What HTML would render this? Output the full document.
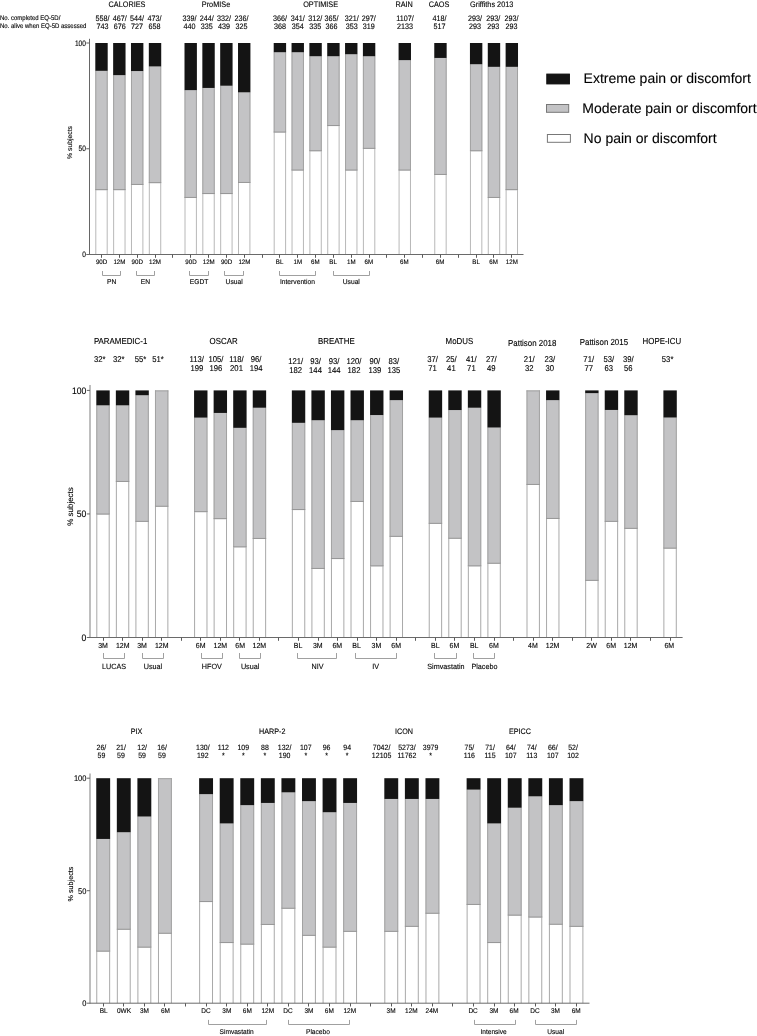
<!DOCTYPE html>
<html><head><meta charset="utf-8"><title>EQ-5D pain or discomfort</title>
<style>
html,body{margin:0;padding:0;background:#fff;}
body{width:757px;height:1036px;overflow:hidden;}
svg{display:block;}
text{fill:#000;font-family:'Liberation Sans', Arial, Helvetica, sans-serif;text-rendering:geometricPrecision;stroke:#000;stroke-width:0.2px;stroke-opacity:0.55;}
</style></head><body>
<svg width="757" height="1036" viewBox="0 0 757 1036">
<rect x="0" y="0" width="757" height="1036" fill="#fff"/>
<rect x="95.30" y="190.15" width="12.40" height="64.35" fill="#ffffff"/>
<line x1="95.80" y1="190.15" x2="95.80" y2="254.50" stroke="#b8b8b8" stroke-width="1"/>
<line x1="107.20" y1="190.15" x2="107.20" y2="254.50" stroke="#b8b8b8" stroke-width="1"/>
<rect x="95.30" y="70.85" width="12.40" height="119.30" fill="#c3c3c5"/>
<line x1="95.80" y1="70.85" x2="95.80" y2="190.15" stroke="#a2a2a2" stroke-width="1"/>
<line x1="107.20" y1="70.85" x2="107.20" y2="190.15" stroke="#a2a2a2" stroke-width="1"/>
<line x1="95.30" y1="189.65" x2="107.70" y2="189.65" stroke="#969696" stroke-width="1"/>
<rect x="95.30" y="43.00" width="12.40" height="27.85" fill="#141414"/>
<rect x="113.14" y="190.15" width="12.40" height="64.35" fill="#ffffff"/>
<line x1="113.64" y1="190.15" x2="113.64" y2="254.50" stroke="#b8b8b8" stroke-width="1"/>
<line x1="125.04" y1="190.15" x2="125.04" y2="254.50" stroke="#b8b8b8" stroke-width="1"/>
<rect x="113.14" y="75.15" width="12.40" height="115.00" fill="#c3c3c5"/>
<line x1="113.64" y1="75.15" x2="113.64" y2="190.15" stroke="#a2a2a2" stroke-width="1"/>
<line x1="125.04" y1="75.15" x2="125.04" y2="190.15" stroke="#a2a2a2" stroke-width="1"/>
<line x1="113.14" y1="189.65" x2="125.54" y2="189.65" stroke="#969696" stroke-width="1"/>
<rect x="113.14" y="43.00" width="12.40" height="32.15" fill="#141414"/>
<rect x="130.98" y="184.95" width="12.40" height="69.55" fill="#ffffff"/>
<line x1="131.48" y1="184.95" x2="131.48" y2="254.50" stroke="#b8b8b8" stroke-width="1"/>
<line x1="142.88" y1="184.95" x2="142.88" y2="254.50" stroke="#b8b8b8" stroke-width="1"/>
<rect x="130.98" y="71.05" width="12.40" height="113.90" fill="#c3c3c5"/>
<line x1="131.48" y1="71.05" x2="131.48" y2="184.95" stroke="#a2a2a2" stroke-width="1"/>
<line x1="142.88" y1="71.05" x2="142.88" y2="184.95" stroke="#a2a2a2" stroke-width="1"/>
<line x1="130.98" y1="184.45" x2="143.38" y2="184.45" stroke="#969696" stroke-width="1"/>
<rect x="130.98" y="43.00" width="12.40" height="28.05" fill="#141414"/>
<rect x="148.82" y="183.15" width="12.40" height="71.35" fill="#ffffff"/>
<line x1="149.32" y1="183.15" x2="149.32" y2="254.50" stroke="#b8b8b8" stroke-width="1"/>
<line x1="160.72" y1="183.15" x2="160.72" y2="254.50" stroke="#b8b8b8" stroke-width="1"/>
<rect x="148.82" y="66.45" width="12.40" height="116.70" fill="#c3c3c5"/>
<line x1="149.32" y1="66.45" x2="149.32" y2="183.15" stroke="#a2a2a2" stroke-width="1"/>
<line x1="160.72" y1="66.45" x2="160.72" y2="183.15" stroke="#a2a2a2" stroke-width="1"/>
<line x1="148.82" y1="182.65" x2="161.22" y2="182.65" stroke="#969696" stroke-width="1"/>
<rect x="148.82" y="43.00" width="12.40" height="23.45" fill="#141414"/>
<rect x="184.50" y="197.95" width="12.40" height="56.55" fill="#ffffff"/>
<line x1="185.00" y1="197.95" x2="185.00" y2="254.50" stroke="#b8b8b8" stroke-width="1"/>
<line x1="196.40" y1="197.95" x2="196.40" y2="254.50" stroke="#b8b8b8" stroke-width="1"/>
<rect x="184.50" y="90.15" width="12.40" height="107.80" fill="#c3c3c5"/>
<line x1="185.00" y1="90.15" x2="185.00" y2="197.95" stroke="#a2a2a2" stroke-width="1"/>
<line x1="196.40" y1="90.15" x2="196.40" y2="197.95" stroke="#a2a2a2" stroke-width="1"/>
<line x1="184.50" y1="197.45" x2="196.90" y2="197.45" stroke="#969696" stroke-width="1"/>
<rect x="184.50" y="43.00" width="12.40" height="47.15" fill="#141414"/>
<rect x="202.34" y="194.05" width="12.40" height="60.45" fill="#ffffff"/>
<line x1="202.84" y1="194.05" x2="202.84" y2="254.50" stroke="#b8b8b8" stroke-width="1"/>
<line x1="214.24" y1="194.05" x2="214.24" y2="254.50" stroke="#b8b8b8" stroke-width="1"/>
<rect x="202.34" y="87.95" width="12.40" height="106.10" fill="#c3c3c5"/>
<line x1="202.84" y1="87.95" x2="202.84" y2="194.05" stroke="#a2a2a2" stroke-width="1"/>
<line x1="214.24" y1="87.95" x2="214.24" y2="194.05" stroke="#a2a2a2" stroke-width="1"/>
<line x1="202.34" y1="193.55" x2="214.74" y2="193.55" stroke="#969696" stroke-width="1"/>
<rect x="202.34" y="43.00" width="12.40" height="44.95" fill="#141414"/>
<rect x="220.18" y="194.05" width="12.40" height="60.45" fill="#ffffff"/>
<line x1="220.68" y1="194.05" x2="220.68" y2="254.50" stroke="#b8b8b8" stroke-width="1"/>
<line x1="232.08" y1="194.05" x2="232.08" y2="254.50" stroke="#b8b8b8" stroke-width="1"/>
<rect x="220.18" y="85.75" width="12.40" height="108.30" fill="#c3c3c5"/>
<line x1="220.68" y1="85.75" x2="220.68" y2="194.05" stroke="#a2a2a2" stroke-width="1"/>
<line x1="232.08" y1="85.75" x2="232.08" y2="194.05" stroke="#a2a2a2" stroke-width="1"/>
<line x1="220.18" y1="193.55" x2="232.58" y2="193.55" stroke="#969696" stroke-width="1"/>
<rect x="220.18" y="43.00" width="12.40" height="42.75" fill="#141414"/>
<rect x="238.02" y="182.95" width="12.40" height="71.55" fill="#ffffff"/>
<line x1="238.52" y1="182.95" x2="238.52" y2="254.50" stroke="#b8b8b8" stroke-width="1"/>
<line x1="249.92" y1="182.95" x2="249.92" y2="254.50" stroke="#b8b8b8" stroke-width="1"/>
<rect x="238.02" y="92.35" width="12.40" height="90.60" fill="#c3c3c5"/>
<line x1="238.52" y1="92.35" x2="238.52" y2="182.95" stroke="#a2a2a2" stroke-width="1"/>
<line x1="249.92" y1="92.35" x2="249.92" y2="182.95" stroke="#a2a2a2" stroke-width="1"/>
<line x1="238.02" y1="182.45" x2="250.42" y2="182.45" stroke="#969696" stroke-width="1"/>
<rect x="238.02" y="43.00" width="12.40" height="49.35" fill="#141414"/>
<rect x="273.70" y="132.55" width="12.40" height="121.95" fill="#ffffff"/>
<line x1="274.20" y1="132.55" x2="274.20" y2="254.50" stroke="#b8b8b8" stroke-width="1"/>
<line x1="285.60" y1="132.55" x2="285.60" y2="254.50" stroke="#b8b8b8" stroke-width="1"/>
<rect x="273.70" y="52.25" width="12.40" height="80.30" fill="#c3c3c5"/>
<line x1="274.20" y1="52.25" x2="274.20" y2="132.55" stroke="#a2a2a2" stroke-width="1"/>
<line x1="285.60" y1="52.25" x2="285.60" y2="132.55" stroke="#a2a2a2" stroke-width="1"/>
<line x1="273.70" y1="132.05" x2="286.10" y2="132.05" stroke="#969696" stroke-width="1"/>
<rect x="273.70" y="43.00" width="12.40" height="9.25" fill="#141414"/>
<rect x="291.54" y="170.55" width="12.40" height="83.95" fill="#ffffff"/>
<line x1="292.04" y1="170.55" x2="292.04" y2="254.50" stroke="#b8b8b8" stroke-width="1"/>
<line x1="303.44" y1="170.55" x2="303.44" y2="254.50" stroke="#b8b8b8" stroke-width="1"/>
<rect x="291.54" y="52.25" width="12.40" height="118.30" fill="#c3c3c5"/>
<line x1="292.04" y1="52.25" x2="292.04" y2="170.55" stroke="#a2a2a2" stroke-width="1"/>
<line x1="303.44" y1="52.25" x2="303.44" y2="170.55" stroke="#a2a2a2" stroke-width="1"/>
<line x1="291.54" y1="170.05" x2="303.94" y2="170.05" stroke="#969696" stroke-width="1"/>
<rect x="291.54" y="43.00" width="12.40" height="9.25" fill="#141414"/>
<rect x="309.38" y="151.25" width="12.40" height="103.25" fill="#ffffff"/>
<line x1="309.88" y1="151.25" x2="309.88" y2="254.50" stroke="#b8b8b8" stroke-width="1"/>
<line x1="321.28" y1="151.25" x2="321.28" y2="254.50" stroke="#b8b8b8" stroke-width="1"/>
<rect x="309.38" y="56.25" width="12.40" height="95.00" fill="#c3c3c5"/>
<line x1="309.88" y1="56.25" x2="309.88" y2="151.25" stroke="#a2a2a2" stroke-width="1"/>
<line x1="321.28" y1="56.25" x2="321.28" y2="151.25" stroke="#a2a2a2" stroke-width="1"/>
<line x1="309.38" y1="150.75" x2="321.78" y2="150.75" stroke="#969696" stroke-width="1"/>
<rect x="309.38" y="43.00" width="12.40" height="13.25" fill="#141414"/>
<rect x="327.22" y="126.05" width="12.40" height="128.45" fill="#ffffff"/>
<line x1="327.72" y1="126.05" x2="327.72" y2="254.50" stroke="#b8b8b8" stroke-width="1"/>
<line x1="339.12" y1="126.05" x2="339.12" y2="254.50" stroke="#b8b8b8" stroke-width="1"/>
<rect x="327.22" y="56.25" width="12.40" height="69.80" fill="#c3c3c5"/>
<line x1="327.72" y1="56.25" x2="327.72" y2="126.05" stroke="#a2a2a2" stroke-width="1"/>
<line x1="339.12" y1="56.25" x2="339.12" y2="126.05" stroke="#a2a2a2" stroke-width="1"/>
<line x1="327.22" y1="125.55" x2="339.62" y2="125.55" stroke="#969696" stroke-width="1"/>
<rect x="327.22" y="43.00" width="12.40" height="13.25" fill="#141414"/>
<rect x="345.06" y="170.55" width="12.40" height="83.95" fill="#ffffff"/>
<line x1="345.56" y1="170.55" x2="345.56" y2="254.50" stroke="#b8b8b8" stroke-width="1"/>
<line x1="356.96" y1="170.55" x2="356.96" y2="254.50" stroke="#b8b8b8" stroke-width="1"/>
<rect x="345.06" y="54.25" width="12.40" height="116.30" fill="#c3c3c5"/>
<line x1="345.56" y1="54.25" x2="345.56" y2="170.55" stroke="#a2a2a2" stroke-width="1"/>
<line x1="356.96" y1="54.25" x2="356.96" y2="170.55" stroke="#a2a2a2" stroke-width="1"/>
<line x1="345.06" y1="170.05" x2="357.46" y2="170.05" stroke="#969696" stroke-width="1"/>
<rect x="345.06" y="43.00" width="12.40" height="11.25" fill="#141414"/>
<rect x="362.90" y="148.85" width="12.40" height="105.65" fill="#ffffff"/>
<line x1="363.40" y1="148.85" x2="363.40" y2="254.50" stroke="#b8b8b8" stroke-width="1"/>
<line x1="374.80" y1="148.85" x2="374.80" y2="254.50" stroke="#b8b8b8" stroke-width="1"/>
<rect x="362.90" y="56.25" width="12.40" height="92.60" fill="#c3c3c5"/>
<line x1="363.40" y1="56.25" x2="363.40" y2="148.85" stroke="#a2a2a2" stroke-width="1"/>
<line x1="374.80" y1="56.25" x2="374.80" y2="148.85" stroke="#a2a2a2" stroke-width="1"/>
<line x1="362.90" y1="148.35" x2="375.30" y2="148.35" stroke="#969696" stroke-width="1"/>
<rect x="362.90" y="43.00" width="12.40" height="13.25" fill="#141414"/>
<rect x="398.58" y="170.55" width="12.40" height="83.95" fill="#ffffff"/>
<line x1="399.08" y1="170.55" x2="399.08" y2="254.50" stroke="#b8b8b8" stroke-width="1"/>
<line x1="410.48" y1="170.55" x2="410.48" y2="254.50" stroke="#b8b8b8" stroke-width="1"/>
<rect x="398.58" y="60.15" width="12.40" height="110.40" fill="#c3c3c5"/>
<line x1="399.08" y1="60.15" x2="399.08" y2="170.55" stroke="#a2a2a2" stroke-width="1"/>
<line x1="410.48" y1="60.15" x2="410.48" y2="170.55" stroke="#a2a2a2" stroke-width="1"/>
<line x1="398.58" y1="170.05" x2="410.98" y2="170.05" stroke="#969696" stroke-width="1"/>
<rect x="398.58" y="43.00" width="12.40" height="17.15" fill="#141414"/>
<rect x="434.26" y="174.95" width="12.40" height="79.55" fill="#ffffff"/>
<line x1="434.76" y1="174.95" x2="434.76" y2="254.50" stroke="#b8b8b8" stroke-width="1"/>
<line x1="446.16" y1="174.95" x2="446.16" y2="254.50" stroke="#b8b8b8" stroke-width="1"/>
<rect x="434.26" y="57.95" width="12.40" height="117.00" fill="#c3c3c5"/>
<line x1="434.76" y1="57.95" x2="434.76" y2="174.95" stroke="#a2a2a2" stroke-width="1"/>
<line x1="446.16" y1="57.95" x2="446.16" y2="174.95" stroke="#a2a2a2" stroke-width="1"/>
<line x1="434.26" y1="174.45" x2="446.66" y2="174.45" stroke="#969696" stroke-width="1"/>
<rect x="434.26" y="43.00" width="12.40" height="14.95" fill="#141414"/>
<rect x="469.94" y="151.25" width="12.40" height="103.25" fill="#ffffff"/>
<line x1="470.44" y1="151.25" x2="470.44" y2="254.50" stroke="#b8b8b8" stroke-width="1"/>
<line x1="481.84" y1="151.25" x2="481.84" y2="254.50" stroke="#b8b8b8" stroke-width="1"/>
<rect x="469.94" y="64.25" width="12.40" height="87.00" fill="#c3c3c5"/>
<line x1="470.44" y1="64.25" x2="470.44" y2="151.25" stroke="#a2a2a2" stroke-width="1"/>
<line x1="481.84" y1="64.25" x2="481.84" y2="151.25" stroke="#a2a2a2" stroke-width="1"/>
<line x1="469.94" y1="150.75" x2="482.34" y2="150.75" stroke="#969696" stroke-width="1"/>
<rect x="469.94" y="43.00" width="12.40" height="21.25" fill="#141414"/>
<rect x="487.78" y="197.95" width="12.40" height="56.55" fill="#ffffff"/>
<line x1="488.28" y1="197.95" x2="488.28" y2="254.50" stroke="#b8b8b8" stroke-width="1"/>
<line x1="499.68" y1="197.95" x2="499.68" y2="254.50" stroke="#b8b8b8" stroke-width="1"/>
<rect x="487.78" y="66.85" width="12.40" height="131.10" fill="#c3c3c5"/>
<line x1="488.28" y1="66.85" x2="488.28" y2="197.95" stroke="#a2a2a2" stroke-width="1"/>
<line x1="499.68" y1="66.85" x2="499.68" y2="197.95" stroke="#a2a2a2" stroke-width="1"/>
<line x1="487.78" y1="197.45" x2="500.18" y2="197.45" stroke="#969696" stroke-width="1"/>
<rect x="487.78" y="43.00" width="12.40" height="23.85" fill="#141414"/>
<rect x="505.62" y="190.15" width="12.40" height="64.35" fill="#ffffff"/>
<line x1="506.12" y1="190.15" x2="506.12" y2="254.50" stroke="#b8b8b8" stroke-width="1"/>
<line x1="517.52" y1="190.15" x2="517.52" y2="254.50" stroke="#b8b8b8" stroke-width="1"/>
<rect x="505.62" y="66.85" width="12.40" height="123.30" fill="#c3c3c5"/>
<line x1="506.12" y1="66.85" x2="506.12" y2="190.15" stroke="#a2a2a2" stroke-width="1"/>
<line x1="517.52" y1="66.85" x2="517.52" y2="190.15" stroke="#a2a2a2" stroke-width="1"/>
<line x1="505.62" y1="189.65" x2="518.02" y2="189.65" stroke="#969696" stroke-width="1"/>
<rect x="505.62" y="43.00" width="12.40" height="23.85" fill="#141414"/>
<line x1="89.50" y1="38.80" x2="89.50" y2="255.00" stroke="#666" stroke-width="1"/>
<line x1="86.30" y1="254.50" x2="89.50" y2="254.50" stroke="#666" stroke-width="1"/>
<text transform="translate(85.90,257.24) scale(1.0,1.2)" font-size="6.6" text-anchor="end">0</text>
<line x1="86.30" y1="148.75" x2="89.50" y2="148.75" stroke="#666" stroke-width="1"/>
<text transform="translate(85.90,151.49) scale(1.0,1.2)" font-size="6.6" text-anchor="end">50</text>
<line x1="86.30" y1="43.00" x2="89.50" y2="43.00" stroke="#666" stroke-width="1"/>
<text transform="translate(85.90,45.74) scale(1.0,1.2)" font-size="6.6" text-anchor="end">100</text>
<line x1="89.50" y1="254.50" x2="523.50" y2="254.50" stroke="#6a6a6a" stroke-width="1"/>
<line x1="101.50" y1="254.50" x2="101.50" y2="257.80" stroke="#5a5a5a" stroke-width="1"/>
<line x1="119.50" y1="254.50" x2="119.50" y2="257.80" stroke="#5a5a5a" stroke-width="1"/>
<line x1="137.50" y1="254.50" x2="137.50" y2="257.80" stroke="#5a5a5a" stroke-width="1"/>
<line x1="155.50" y1="254.50" x2="155.50" y2="257.80" stroke="#5a5a5a" stroke-width="1"/>
<line x1="172.50" y1="254.50" x2="172.50" y2="257.80" stroke="#5a5a5a" stroke-width="1"/>
<line x1="190.50" y1="254.50" x2="190.50" y2="257.80" stroke="#5a5a5a" stroke-width="1"/>
<line x1="208.50" y1="254.50" x2="208.50" y2="257.80" stroke="#5a5a5a" stroke-width="1"/>
<line x1="226.50" y1="254.50" x2="226.50" y2="257.80" stroke="#5a5a5a" stroke-width="1"/>
<line x1="244.50" y1="254.50" x2="244.50" y2="257.80" stroke="#5a5a5a" stroke-width="1"/>
<line x1="262.50" y1="254.50" x2="262.50" y2="257.80" stroke="#5a5a5a" stroke-width="1"/>
<line x1="279.50" y1="254.50" x2="279.50" y2="257.80" stroke="#5a5a5a" stroke-width="1"/>
<line x1="297.50" y1="254.50" x2="297.50" y2="257.80" stroke="#5a5a5a" stroke-width="1"/>
<line x1="315.50" y1="254.50" x2="315.50" y2="257.80" stroke="#5a5a5a" stroke-width="1"/>
<line x1="333.50" y1="254.50" x2="333.50" y2="257.80" stroke="#5a5a5a" stroke-width="1"/>
<line x1="351.50" y1="254.50" x2="351.50" y2="257.80" stroke="#5a5a5a" stroke-width="1"/>
<line x1="369.50" y1="254.50" x2="369.50" y2="257.80" stroke="#5a5a5a" stroke-width="1"/>
<line x1="386.50" y1="254.50" x2="386.50" y2="257.80" stroke="#5a5a5a" stroke-width="1"/>
<line x1="404.50" y1="254.50" x2="404.50" y2="257.80" stroke="#5a5a5a" stroke-width="1"/>
<line x1="422.50" y1="254.50" x2="422.50" y2="257.80" stroke="#5a5a5a" stroke-width="1"/>
<line x1="440.50" y1="254.50" x2="440.50" y2="257.80" stroke="#5a5a5a" stroke-width="1"/>
<line x1="458.50" y1="254.50" x2="458.50" y2="257.80" stroke="#5a5a5a" stroke-width="1"/>
<line x1="476.50" y1="254.50" x2="476.50" y2="257.80" stroke="#5a5a5a" stroke-width="1"/>
<line x1="493.50" y1="254.50" x2="493.50" y2="257.80" stroke="#5a5a5a" stroke-width="1"/>
<line x1="511.50" y1="254.50" x2="511.50" y2="257.80" stroke="#5a5a5a" stroke-width="1"/>
<text x="0" y="0" font-size="6.8" text-anchor="middle" transform="translate(71.80,142.50) rotate(-90)">% subjects</text>
<text transform="translate(101.60,263.60) scale(1.0,1.05)" font-size="6.2" text-anchor="middle">90D</text>
<text transform="translate(119.40,263.60) scale(1.0,1.05)" font-size="6.2" text-anchor="middle">12M</text>
<text transform="translate(137.20,263.60) scale(1.0,1.05)" font-size="6.2" text-anchor="middle">90D</text>
<text transform="translate(155.00,263.60) scale(1.0,1.05)" font-size="6.2" text-anchor="middle">12M</text>
<text transform="translate(191.00,263.60) scale(1.0,1.05)" font-size="6.2" text-anchor="middle">90D</text>
<text transform="translate(208.70,263.60) scale(1.0,1.05)" font-size="6.2" text-anchor="middle">12M</text>
<text transform="translate(226.60,263.60) scale(1.0,1.05)" font-size="6.2" text-anchor="middle">90D</text>
<text transform="translate(244.40,263.60) scale(1.0,1.05)" font-size="6.2" text-anchor="middle">12M</text>
<text transform="translate(279.60,263.60) scale(1.0,1.05)" font-size="6.2" text-anchor="middle">BL</text>
<text transform="translate(297.80,263.60) scale(1.0,1.05)" font-size="6.2" text-anchor="middle">1M</text>
<text transform="translate(315.30,263.60) scale(1.0,1.05)" font-size="6.2" text-anchor="middle">6M</text>
<text transform="translate(333.10,263.60) scale(1.0,1.05)" font-size="6.2" text-anchor="middle">BL</text>
<text transform="translate(351.30,263.60) scale(1.0,1.05)" font-size="6.2" text-anchor="middle">1M</text>
<text transform="translate(368.80,263.60) scale(1.0,1.05)" font-size="6.2" text-anchor="middle">6M</text>
<text transform="translate(404.40,263.60) scale(1.0,1.05)" font-size="6.2" text-anchor="middle">6M</text>
<text transform="translate(440.10,263.60) scale(1.0,1.05)" font-size="6.2" text-anchor="middle">6M</text>
<text transform="translate(476.10,263.60) scale(1.0,1.05)" font-size="6.2" text-anchor="middle">BL</text>
<text transform="translate(493.60,263.60) scale(1.0,1.05)" font-size="6.2" text-anchor="middle">6M</text>
<text transform="translate(511.80,263.60) scale(1.0,1.05)" font-size="6.2" text-anchor="middle">12M</text>
<polyline points="102.50,271.00 102.50,275.50 120.50,275.50 120.50,271.00" fill="none" stroke="#a0a0a0" stroke-width="1"/>
<text transform="translate(111.70,284.20) scale(1.0,1.05)" font-size="6.7" text-anchor="middle">PN</text>
<polyline points="136.50,271.00 136.50,275.50 154.50,275.50 154.50,271.00" fill="none" stroke="#a0a0a0" stroke-width="1"/>
<text transform="translate(145.50,284.20) scale(1.0,1.05)" font-size="6.7" text-anchor="middle">EN</text>
<polyline points="189.50,271.00 189.50,275.50 208.50,275.50 208.50,271.00" fill="none" stroke="#a0a0a0" stroke-width="1"/>
<text transform="translate(199.00,284.20) scale(1.0,1.05)" font-size="6.7" text-anchor="middle">EGDT</text>
<polyline points="224.50,271.00 224.50,275.50 243.50,275.50 243.50,271.00" fill="none" stroke="#a0a0a0" stroke-width="1"/>
<text transform="translate(234.10,284.20) scale(1.0,1.05)" font-size="6.7" text-anchor="middle">Usual</text>
<polyline points="279.50,271.00 279.50,275.50 315.50,275.50 315.50,271.00" fill="none" stroke="#a0a0a0" stroke-width="1"/>
<text transform="translate(297.40,284.20) scale(1.0,1.05)" font-size="6.7" text-anchor="middle">Intervention</text>
<polyline points="333.50,271.00 333.50,275.50 369.50,275.50 369.50,271.00" fill="none" stroke="#a0a0a0" stroke-width="1"/>
<text transform="translate(351.30,284.20) scale(1.0,1.05)" font-size="6.7" text-anchor="middle">Usual</text>
<text transform="translate(127.00,6.50) scale(1.0,1.1)" font-size="7.3" text-anchor="middle">CALORIES</text>
<text transform="translate(216.00,6.50) scale(1.0,1.1)" font-size="7.3" text-anchor="middle">ProMISe</text>
<text transform="translate(320.60,6.50) scale(1.0,1.1)" font-size="7.3" text-anchor="middle">OPTIMISE</text>
<text transform="translate(404.10,6.50) scale(1.0,1.1)" font-size="7.3" text-anchor="middle">RAIN</text>
<text transform="translate(439.00,6.50) scale(1.0,1.1)" font-size="7.3" text-anchor="middle">CAOS</text>
<text transform="translate(491.70,6.50) scale(1.0,1.1)" font-size="7.3" text-anchor="middle">Griffiths 2013</text>
<text transform="translate(102.60,20.50) scale(1.0,1.1)" font-size="7.2" text-anchor="middle">558/</text>
<text transform="translate(102.60,29.10) scale(1.0,1.1)" font-size="7.2" text-anchor="middle">743</text>
<text transform="translate(119.80,20.50) scale(1.0,1.1)" font-size="7.2" text-anchor="middle">467/</text>
<text transform="translate(119.80,29.10) scale(1.0,1.1)" font-size="7.2" text-anchor="middle">676</text>
<text transform="translate(137.00,20.50) scale(1.0,1.1)" font-size="7.2" text-anchor="middle">544/</text>
<text transform="translate(137.00,29.10) scale(1.0,1.1)" font-size="7.2" text-anchor="middle">727</text>
<text transform="translate(154.50,20.50) scale(1.0,1.1)" font-size="7.2" text-anchor="middle">473/</text>
<text transform="translate(154.50,29.10) scale(1.0,1.1)" font-size="7.2" text-anchor="middle">658</text>
<text transform="translate(189.50,20.50) scale(1.0,1.1)" font-size="7.2" text-anchor="middle">339/</text>
<text transform="translate(189.50,29.10) scale(1.0,1.1)" font-size="7.2" text-anchor="middle">440</text>
<text transform="translate(206.70,20.50) scale(1.0,1.1)" font-size="7.2" text-anchor="middle">244/</text>
<text transform="translate(206.70,29.10) scale(1.0,1.1)" font-size="7.2" text-anchor="middle">335</text>
<text transform="translate(224.00,20.50) scale(1.0,1.1)" font-size="7.2" text-anchor="middle">332/</text>
<text transform="translate(224.00,29.10) scale(1.0,1.1)" font-size="7.2" text-anchor="middle">439</text>
<text transform="translate(241.60,20.50) scale(1.0,1.1)" font-size="7.2" text-anchor="middle">236/</text>
<text transform="translate(241.60,29.10) scale(1.0,1.1)" font-size="7.2" text-anchor="middle">325</text>
<text transform="translate(280.00,20.50) scale(1.0,1.1)" font-size="7.2" text-anchor="middle">366/</text>
<text transform="translate(280.00,29.10) scale(1.0,1.1)" font-size="7.2" text-anchor="middle">368</text>
<text transform="translate(297.80,20.50) scale(1.0,1.1)" font-size="7.2" text-anchor="middle">341/</text>
<text transform="translate(297.80,29.10) scale(1.0,1.1)" font-size="7.2" text-anchor="middle">354</text>
<text transform="translate(315.20,20.50) scale(1.0,1.1)" font-size="7.2" text-anchor="middle">312/</text>
<text transform="translate(315.20,29.10) scale(1.0,1.1)" font-size="7.2" text-anchor="middle">335</text>
<text transform="translate(331.60,20.50) scale(1.0,1.1)" font-size="7.2" text-anchor="middle">365/</text>
<text transform="translate(331.60,29.10) scale(1.0,1.1)" font-size="7.2" text-anchor="middle">366</text>
<text transform="translate(351.80,20.50) scale(1.0,1.1)" font-size="7.2" text-anchor="middle">321/</text>
<text transform="translate(351.80,29.10) scale(1.0,1.1)" font-size="7.2" text-anchor="middle">353</text>
<text transform="translate(368.70,20.50) scale(1.0,1.1)" font-size="7.2" text-anchor="middle">297/</text>
<text transform="translate(368.70,29.10) scale(1.0,1.1)" font-size="7.2" text-anchor="middle">319</text>
<text transform="translate(404.90,20.50) scale(1.0,1.1)" font-size="7.2" text-anchor="middle">1107/</text>
<text transform="translate(404.90,29.10) scale(1.0,1.1)" font-size="7.2" text-anchor="middle">2133</text>
<text transform="translate(439.60,20.50) scale(1.0,1.1)" font-size="7.2" text-anchor="middle">418/</text>
<text transform="translate(439.60,29.10) scale(1.0,1.1)" font-size="7.2" text-anchor="middle">517</text>
<text transform="translate(475.00,20.50) scale(1.0,1.1)" font-size="7.2" text-anchor="middle">293/</text>
<text transform="translate(475.00,29.10) scale(1.0,1.1)" font-size="7.2" text-anchor="middle">293</text>
<text transform="translate(493.20,20.50) scale(1.0,1.1)" font-size="7.2" text-anchor="middle">293/</text>
<text transform="translate(493.20,29.10) scale(1.0,1.1)" font-size="7.2" text-anchor="middle">293</text>
<text transform="translate(511.50,20.50) scale(1.0,1.1)" font-size="7.2" text-anchor="middle">293/</text>
<text transform="translate(511.50,29.10) scale(1.0,1.1)" font-size="7.2" text-anchor="middle">293</text>
<rect x="96.30" y="514.55" width="13.40" height="122.95" fill="#ffffff"/>
<line x1="96.80" y1="514.55" x2="96.80" y2="637.50" stroke="#a9a9a9" stroke-width="1"/>
<line x1="109.20" y1="514.55" x2="109.20" y2="637.50" stroke="#a9a9a9" stroke-width="1"/>
<rect x="96.30" y="405.35" width="13.40" height="109.20" fill="#c3c3c5"/>
<line x1="96.80" y1="405.35" x2="96.80" y2="514.55" stroke="#a2a2a2" stroke-width="1"/>
<line x1="109.20" y1="405.35" x2="109.20" y2="514.55" stroke="#a2a2a2" stroke-width="1"/>
<line x1="96.30" y1="514.05" x2="109.70" y2="514.05" stroke="#969696" stroke-width="1"/>
<rect x="96.30" y="390.40" width="13.40" height="14.95" fill="#141414"/>
<rect x="115.86" y="481.95" width="13.40" height="155.55" fill="#ffffff"/>
<line x1="116.36" y1="481.95" x2="116.36" y2="637.50" stroke="#a9a9a9" stroke-width="1"/>
<line x1="128.75" y1="481.95" x2="128.75" y2="637.50" stroke="#a9a9a9" stroke-width="1"/>
<rect x="115.86" y="405.35" width="13.40" height="76.60" fill="#c3c3c5"/>
<line x1="116.36" y1="405.35" x2="116.36" y2="481.95" stroke="#a2a2a2" stroke-width="1"/>
<line x1="128.75" y1="405.35" x2="128.75" y2="481.95" stroke="#a2a2a2" stroke-width="1"/>
<line x1="115.86" y1="481.45" x2="129.25" y2="481.45" stroke="#969696" stroke-width="1"/>
<rect x="115.86" y="390.40" width="13.40" height="14.95" fill="#141414"/>
<rect x="135.41" y="521.85" width="13.40" height="115.65" fill="#ffffff"/>
<line x1="135.91" y1="521.85" x2="135.91" y2="637.50" stroke="#a9a9a9" stroke-width="1"/>
<line x1="148.31" y1="521.85" x2="148.31" y2="637.50" stroke="#a9a9a9" stroke-width="1"/>
<rect x="135.41" y="395.25" width="13.40" height="126.60" fill="#c3c3c5"/>
<line x1="135.91" y1="395.25" x2="135.91" y2="521.85" stroke="#a2a2a2" stroke-width="1"/>
<line x1="148.31" y1="395.25" x2="148.31" y2="521.85" stroke="#a2a2a2" stroke-width="1"/>
<line x1="135.41" y1="521.35" x2="148.81" y2="521.35" stroke="#969696" stroke-width="1"/>
<rect x="135.41" y="390.40" width="13.40" height="4.85" fill="#141414"/>
<rect x="154.97" y="506.75" width="13.40" height="130.75" fill="#ffffff"/>
<line x1="155.47" y1="506.75" x2="155.47" y2="637.50" stroke="#a9a9a9" stroke-width="1"/>
<line x1="167.87" y1="506.75" x2="167.87" y2="637.50" stroke="#a9a9a9" stroke-width="1"/>
<rect x="154.97" y="390.40" width="13.40" height="116.35" fill="#c3c3c5"/>
<line x1="155.47" y1="390.40" x2="155.47" y2="506.75" stroke="#a2a2a2" stroke-width="1"/>
<line x1="167.87" y1="390.40" x2="167.87" y2="506.75" stroke="#a2a2a2" stroke-width="1"/>
<line x1="154.97" y1="506.25" x2="168.37" y2="506.25" stroke="#969696" stroke-width="1"/>
<line x1="154.97" y1="390.90" x2="168.37" y2="390.90" stroke="#a2a2a2" stroke-width="1"/>
<rect x="194.08" y="512.15" width="13.40" height="125.35" fill="#ffffff"/>
<line x1="194.58" y1="512.15" x2="194.58" y2="637.50" stroke="#a9a9a9" stroke-width="1"/>
<line x1="206.98" y1="512.15" x2="206.98" y2="637.50" stroke="#a9a9a9" stroke-width="1"/>
<rect x="194.08" y="417.65" width="13.40" height="94.50" fill="#c3c3c5"/>
<line x1="194.58" y1="417.65" x2="194.58" y2="512.15" stroke="#a2a2a2" stroke-width="1"/>
<line x1="206.98" y1="417.65" x2="206.98" y2="512.15" stroke="#a2a2a2" stroke-width="1"/>
<line x1="194.08" y1="511.65" x2="207.48" y2="511.65" stroke="#969696" stroke-width="1"/>
<rect x="194.08" y="390.40" width="13.40" height="27.25" fill="#141414"/>
<rect x="213.63" y="519.15" width="13.40" height="118.35" fill="#ffffff"/>
<line x1="214.13" y1="519.15" x2="214.13" y2="637.50" stroke="#a9a9a9" stroke-width="1"/>
<line x1="226.53" y1="519.15" x2="226.53" y2="637.50" stroke="#a9a9a9" stroke-width="1"/>
<rect x="213.63" y="412.95" width="13.40" height="106.20" fill="#c3c3c5"/>
<line x1="214.13" y1="412.95" x2="214.13" y2="519.15" stroke="#a2a2a2" stroke-width="1"/>
<line x1="226.53" y1="412.95" x2="226.53" y2="519.15" stroke="#a2a2a2" stroke-width="1"/>
<line x1="213.63" y1="518.65" x2="227.03" y2="518.65" stroke="#969696" stroke-width="1"/>
<rect x="213.63" y="390.40" width="13.40" height="22.55" fill="#141414"/>
<rect x="233.19" y="547.35" width="13.40" height="90.15" fill="#ffffff"/>
<line x1="233.69" y1="547.35" x2="233.69" y2="637.50" stroke="#a9a9a9" stroke-width="1"/>
<line x1="246.09" y1="547.35" x2="246.09" y2="637.50" stroke="#a9a9a9" stroke-width="1"/>
<rect x="233.19" y="427.85" width="13.40" height="119.50" fill="#c3c3c5"/>
<line x1="233.69" y1="427.85" x2="233.69" y2="547.35" stroke="#a2a2a2" stroke-width="1"/>
<line x1="246.09" y1="427.85" x2="246.09" y2="547.35" stroke="#a2a2a2" stroke-width="1"/>
<line x1="233.19" y1="546.85" x2="246.59" y2="546.85" stroke="#969696" stroke-width="1"/>
<rect x="233.19" y="390.40" width="13.40" height="37.45" fill="#141414"/>
<rect x="252.74" y="538.95" width="13.40" height="98.55" fill="#ffffff"/>
<line x1="253.24" y1="538.95" x2="253.24" y2="637.50" stroke="#a9a9a9" stroke-width="1"/>
<line x1="265.64" y1="538.95" x2="265.64" y2="637.50" stroke="#a9a9a9" stroke-width="1"/>
<rect x="252.74" y="407.75" width="13.40" height="131.20" fill="#c3c3c5"/>
<line x1="253.24" y1="407.75" x2="253.24" y2="538.95" stroke="#a2a2a2" stroke-width="1"/>
<line x1="265.64" y1="407.75" x2="265.64" y2="538.95" stroke="#a2a2a2" stroke-width="1"/>
<line x1="252.74" y1="538.45" x2="266.14" y2="538.45" stroke="#969696" stroke-width="1"/>
<rect x="252.74" y="390.40" width="13.40" height="17.35" fill="#141414"/>
<rect x="291.85" y="510.05" width="13.40" height="127.45" fill="#ffffff"/>
<line x1="292.35" y1="510.05" x2="292.35" y2="637.50" stroke="#a9a9a9" stroke-width="1"/>
<line x1="304.75" y1="510.05" x2="304.75" y2="637.50" stroke="#a9a9a9" stroke-width="1"/>
<rect x="291.85" y="422.85" width="13.40" height="87.20" fill="#c3c3c5"/>
<line x1="292.35" y1="422.85" x2="292.35" y2="510.05" stroke="#a2a2a2" stroke-width="1"/>
<line x1="304.75" y1="422.85" x2="304.75" y2="510.05" stroke="#a2a2a2" stroke-width="1"/>
<line x1="291.85" y1="509.55" x2="305.25" y2="509.55" stroke="#969696" stroke-width="1"/>
<rect x="291.85" y="390.40" width="13.40" height="32.45" fill="#141414"/>
<rect x="311.41" y="568.95" width="13.40" height="68.55" fill="#ffffff"/>
<line x1="311.91" y1="568.95" x2="311.91" y2="637.50" stroke="#a9a9a9" stroke-width="1"/>
<line x1="324.31" y1="568.95" x2="324.31" y2="637.50" stroke="#a9a9a9" stroke-width="1"/>
<rect x="311.41" y="420.25" width="13.40" height="148.70" fill="#c3c3c5"/>
<line x1="311.91" y1="420.25" x2="311.91" y2="568.95" stroke="#a2a2a2" stroke-width="1"/>
<line x1="324.31" y1="420.25" x2="324.31" y2="568.95" stroke="#a2a2a2" stroke-width="1"/>
<line x1="311.41" y1="568.45" x2="324.81" y2="568.45" stroke="#969696" stroke-width="1"/>
<rect x="311.41" y="390.40" width="13.40" height="29.85" fill="#141414"/>
<rect x="330.96" y="559.05" width="13.40" height="78.45" fill="#ffffff"/>
<line x1="331.46" y1="559.05" x2="331.46" y2="637.50" stroke="#a9a9a9" stroke-width="1"/>
<line x1="343.86" y1="559.05" x2="343.86" y2="637.50" stroke="#a9a9a9" stroke-width="1"/>
<rect x="330.96" y="430.15" width="13.40" height="128.90" fill="#c3c3c5"/>
<line x1="331.46" y1="430.15" x2="331.46" y2="559.05" stroke="#a2a2a2" stroke-width="1"/>
<line x1="343.86" y1="430.15" x2="343.86" y2="559.05" stroke="#a2a2a2" stroke-width="1"/>
<line x1="330.96" y1="558.55" x2="344.36" y2="558.55" stroke="#969696" stroke-width="1"/>
<rect x="330.96" y="390.40" width="13.40" height="39.75" fill="#141414"/>
<rect x="350.52" y="501.95" width="13.40" height="135.55" fill="#ffffff"/>
<line x1="351.02" y1="501.95" x2="351.02" y2="637.50" stroke="#a9a9a9" stroke-width="1"/>
<line x1="363.42" y1="501.95" x2="363.42" y2="637.50" stroke="#a9a9a9" stroke-width="1"/>
<rect x="350.52" y="420.25" width="13.40" height="81.70" fill="#c3c3c5"/>
<line x1="351.02" y1="420.25" x2="351.02" y2="501.95" stroke="#a2a2a2" stroke-width="1"/>
<line x1="363.42" y1="420.25" x2="363.42" y2="501.95" stroke="#a2a2a2" stroke-width="1"/>
<line x1="350.52" y1="501.45" x2="363.92" y2="501.45" stroke="#969696" stroke-width="1"/>
<rect x="350.52" y="390.40" width="13.40" height="29.85" fill="#141414"/>
<rect x="370.07" y="566.35" width="13.40" height="71.15" fill="#ffffff"/>
<line x1="370.57" y1="566.35" x2="370.57" y2="637.50" stroke="#a9a9a9" stroke-width="1"/>
<line x1="382.97" y1="566.35" x2="382.97" y2="637.50" stroke="#a9a9a9" stroke-width="1"/>
<rect x="370.07" y="415.05" width="13.40" height="151.30" fill="#c3c3c5"/>
<line x1="370.57" y1="415.05" x2="370.57" y2="566.35" stroke="#a2a2a2" stroke-width="1"/>
<line x1="382.97" y1="415.05" x2="382.97" y2="566.35" stroke="#a2a2a2" stroke-width="1"/>
<line x1="370.07" y1="565.85" x2="383.47" y2="565.85" stroke="#969696" stroke-width="1"/>
<rect x="370.07" y="390.40" width="13.40" height="24.65" fill="#141414"/>
<rect x="389.62" y="536.85" width="13.40" height="100.65" fill="#ffffff"/>
<line x1="390.12" y1="536.85" x2="390.12" y2="637.50" stroke="#a9a9a9" stroke-width="1"/>
<line x1="402.52" y1="536.85" x2="402.52" y2="637.50" stroke="#a9a9a9" stroke-width="1"/>
<rect x="389.62" y="400.15" width="13.40" height="136.70" fill="#c3c3c5"/>
<line x1="390.12" y1="400.15" x2="390.12" y2="536.85" stroke="#a2a2a2" stroke-width="1"/>
<line x1="402.52" y1="400.15" x2="402.52" y2="536.85" stroke="#a2a2a2" stroke-width="1"/>
<line x1="389.62" y1="536.35" x2="403.02" y2="536.35" stroke="#969696" stroke-width="1"/>
<rect x="389.62" y="390.40" width="13.40" height="9.75" fill="#141414"/>
<rect x="428.74" y="523.85" width="13.40" height="113.65" fill="#ffffff"/>
<line x1="429.24" y1="523.85" x2="429.24" y2="637.50" stroke="#a9a9a9" stroke-width="1"/>
<line x1="441.63" y1="523.85" x2="441.63" y2="637.50" stroke="#a9a9a9" stroke-width="1"/>
<rect x="428.74" y="417.65" width="13.40" height="106.20" fill="#c3c3c5"/>
<line x1="429.24" y1="417.65" x2="429.24" y2="523.85" stroke="#a2a2a2" stroke-width="1"/>
<line x1="441.63" y1="417.65" x2="441.63" y2="523.85" stroke="#a2a2a2" stroke-width="1"/>
<line x1="428.74" y1="523.35" x2="442.13" y2="523.35" stroke="#969696" stroke-width="1"/>
<rect x="428.74" y="390.40" width="13.40" height="27.25" fill="#141414"/>
<rect x="448.29" y="538.75" width="13.40" height="98.75" fill="#ffffff"/>
<line x1="448.79" y1="538.75" x2="448.79" y2="637.50" stroke="#a9a9a9" stroke-width="1"/>
<line x1="461.19" y1="538.75" x2="461.19" y2="637.50" stroke="#a9a9a9" stroke-width="1"/>
<rect x="448.29" y="410.05" width="13.40" height="128.70" fill="#c3c3c5"/>
<line x1="448.79" y1="410.05" x2="448.79" y2="538.75" stroke="#a2a2a2" stroke-width="1"/>
<line x1="461.19" y1="410.05" x2="461.19" y2="538.75" stroke="#a2a2a2" stroke-width="1"/>
<line x1="448.29" y1="538.25" x2="461.69" y2="538.25" stroke="#969696" stroke-width="1"/>
<rect x="448.29" y="390.40" width="13.40" height="19.65" fill="#141414"/>
<rect x="467.85" y="566.35" width="13.40" height="71.15" fill="#ffffff"/>
<line x1="468.35" y1="566.35" x2="468.35" y2="637.50" stroke="#a9a9a9" stroke-width="1"/>
<line x1="480.75" y1="566.35" x2="480.75" y2="637.50" stroke="#a9a9a9" stroke-width="1"/>
<rect x="467.85" y="407.75" width="13.40" height="158.60" fill="#c3c3c5"/>
<line x1="468.35" y1="407.75" x2="468.35" y2="566.35" stroke="#a2a2a2" stroke-width="1"/>
<line x1="480.75" y1="407.75" x2="480.75" y2="566.35" stroke="#a2a2a2" stroke-width="1"/>
<line x1="467.85" y1="565.85" x2="481.25" y2="565.85" stroke="#969696" stroke-width="1"/>
<rect x="467.85" y="390.40" width="13.40" height="17.35" fill="#141414"/>
<rect x="487.40" y="563.75" width="13.40" height="73.75" fill="#ffffff"/>
<line x1="487.90" y1="563.75" x2="487.90" y2="637.50" stroke="#a9a9a9" stroke-width="1"/>
<line x1="500.30" y1="563.75" x2="500.30" y2="637.50" stroke="#a9a9a9" stroke-width="1"/>
<rect x="487.40" y="427.55" width="13.40" height="136.20" fill="#c3c3c5"/>
<line x1="487.90" y1="427.55" x2="487.90" y2="563.75" stroke="#a2a2a2" stroke-width="1"/>
<line x1="500.30" y1="427.55" x2="500.30" y2="563.75" stroke="#a2a2a2" stroke-width="1"/>
<line x1="487.40" y1="563.25" x2="500.80" y2="563.25" stroke="#969696" stroke-width="1"/>
<rect x="487.40" y="390.40" width="13.40" height="37.15" fill="#141414"/>
<rect x="526.51" y="484.95" width="13.40" height="152.55" fill="#ffffff"/>
<line x1="527.01" y1="484.95" x2="527.01" y2="637.50" stroke="#a9a9a9" stroke-width="1"/>
<line x1="539.41" y1="484.95" x2="539.41" y2="637.50" stroke="#a9a9a9" stroke-width="1"/>
<rect x="526.51" y="390.40" width="13.40" height="94.55" fill="#c3c3c5"/>
<line x1="527.01" y1="390.40" x2="527.01" y2="484.95" stroke="#a2a2a2" stroke-width="1"/>
<line x1="539.41" y1="390.40" x2="539.41" y2="484.95" stroke="#a2a2a2" stroke-width="1"/>
<line x1="526.51" y1="484.45" x2="539.91" y2="484.45" stroke="#969696" stroke-width="1"/>
<line x1="526.51" y1="390.90" x2="539.91" y2="390.90" stroke="#a2a2a2" stroke-width="1"/>
<rect x="546.06" y="518.95" width="13.40" height="118.55" fill="#ffffff"/>
<line x1="546.56" y1="518.95" x2="546.56" y2="637.50" stroke="#a9a9a9" stroke-width="1"/>
<line x1="558.96" y1="518.95" x2="558.96" y2="637.50" stroke="#a9a9a9" stroke-width="1"/>
<rect x="546.06" y="400.15" width="13.40" height="118.80" fill="#c3c3c5"/>
<line x1="546.56" y1="400.15" x2="546.56" y2="518.95" stroke="#a2a2a2" stroke-width="1"/>
<line x1="558.96" y1="400.15" x2="558.96" y2="518.95" stroke="#a2a2a2" stroke-width="1"/>
<line x1="546.06" y1="518.45" x2="559.46" y2="518.45" stroke="#969696" stroke-width="1"/>
<rect x="546.06" y="390.40" width="13.40" height="9.75" fill="#141414"/>
<rect x="585.17" y="580.85" width="13.40" height="56.65" fill="#ffffff"/>
<line x1="585.67" y1="580.85" x2="585.67" y2="637.50" stroke="#a9a9a9" stroke-width="1"/>
<line x1="598.07" y1="580.85" x2="598.07" y2="637.50" stroke="#a9a9a9" stroke-width="1"/>
<rect x="585.17" y="393.15" width="13.40" height="187.70" fill="#c3c3c5"/>
<line x1="585.67" y1="393.15" x2="585.67" y2="580.85" stroke="#a2a2a2" stroke-width="1"/>
<line x1="598.07" y1="393.15" x2="598.07" y2="580.85" stroke="#a2a2a2" stroke-width="1"/>
<line x1="585.17" y1="580.35" x2="598.57" y2="580.35" stroke="#969696" stroke-width="1"/>
<rect x="585.17" y="390.40" width="13.40" height="2.75" fill="#141414"/>
<rect x="604.73" y="521.85" width="13.40" height="115.65" fill="#ffffff"/>
<line x1="605.23" y1="521.85" x2="605.23" y2="637.50" stroke="#a9a9a9" stroke-width="1"/>
<line x1="617.63" y1="521.85" x2="617.63" y2="637.50" stroke="#a9a9a9" stroke-width="1"/>
<rect x="604.73" y="409.95" width="13.40" height="111.90" fill="#c3c3c5"/>
<line x1="605.23" y1="409.95" x2="605.23" y2="521.85" stroke="#a2a2a2" stroke-width="1"/>
<line x1="617.63" y1="409.95" x2="617.63" y2="521.85" stroke="#a2a2a2" stroke-width="1"/>
<line x1="604.73" y1="521.35" x2="618.13" y2="521.35" stroke="#969696" stroke-width="1"/>
<rect x="604.73" y="390.40" width="13.40" height="19.55" fill="#141414"/>
<rect x="624.28" y="528.85" width="13.40" height="108.65" fill="#ffffff"/>
<line x1="624.78" y1="528.85" x2="624.78" y2="637.50" stroke="#a9a9a9" stroke-width="1"/>
<line x1="637.18" y1="528.85" x2="637.18" y2="637.50" stroke="#a9a9a9" stroke-width="1"/>
<rect x="624.28" y="415.25" width="13.40" height="113.60" fill="#c3c3c5"/>
<line x1="624.78" y1="415.25" x2="624.78" y2="528.85" stroke="#a2a2a2" stroke-width="1"/>
<line x1="637.18" y1="415.25" x2="637.18" y2="528.85" stroke="#a2a2a2" stroke-width="1"/>
<line x1="624.28" y1="528.35" x2="637.68" y2="528.35" stroke="#969696" stroke-width="1"/>
<rect x="624.28" y="390.40" width="13.40" height="24.85" fill="#141414"/>
<rect x="663.39" y="548.65" width="13.40" height="88.85" fill="#ffffff"/>
<line x1="663.89" y1="548.65" x2="663.89" y2="637.50" stroke="#a9a9a9" stroke-width="1"/>
<line x1="676.29" y1="548.65" x2="676.29" y2="637.50" stroke="#a9a9a9" stroke-width="1"/>
<rect x="663.39" y="417.55" width="13.40" height="131.10" fill="#c3c3c5"/>
<line x1="663.89" y1="417.55" x2="663.89" y2="548.65" stroke="#a2a2a2" stroke-width="1"/>
<line x1="676.29" y1="417.55" x2="676.29" y2="548.65" stroke="#a2a2a2" stroke-width="1"/>
<line x1="663.39" y1="548.15" x2="676.79" y2="548.15" stroke="#969696" stroke-width="1"/>
<rect x="663.39" y="390.40" width="13.40" height="27.15" fill="#141414"/>
<line x1="90.00" y1="385.10" x2="90.00" y2="638.00" stroke="#a8a8a8" stroke-width="1.5"/>
<line x1="86.80" y1="637.50" x2="90.00" y2="637.50" stroke="#666" stroke-width="1"/>
<text transform="translate(86.40,640.77) scale(1.0,1.1)" font-size="8.6" text-anchor="end">0</text>
<line x1="86.80" y1="513.95" x2="90.00" y2="513.95" stroke="#666" stroke-width="1"/>
<text transform="translate(86.40,517.22) scale(1.0,1.1)" font-size="8.6" text-anchor="end">50</text>
<line x1="86.80" y1="390.40" x2="90.00" y2="390.40" stroke="#666" stroke-width="1"/>
<text transform="translate(86.40,393.67) scale(1.0,1.1)" font-size="8.6" text-anchor="end">100</text>
<line x1="90.00" y1="637.50" x2="682.60" y2="637.50" stroke="#6a6a6a" stroke-width="1"/>
<line x1="103.50" y1="637.50" x2="103.50" y2="640.80" stroke="#5a5a5a" stroke-width="1"/>
<line x1="122.50" y1="637.50" x2="122.50" y2="640.80" stroke="#5a5a5a" stroke-width="1"/>
<line x1="142.50" y1="637.50" x2="142.50" y2="640.80" stroke="#5a5a5a" stroke-width="1"/>
<line x1="161.50" y1="637.50" x2="161.50" y2="640.80" stroke="#5a5a5a" stroke-width="1"/>
<line x1="181.50" y1="637.50" x2="181.50" y2="640.80" stroke="#5a5a5a" stroke-width="1"/>
<line x1="200.50" y1="637.50" x2="200.50" y2="640.80" stroke="#5a5a5a" stroke-width="1"/>
<line x1="220.50" y1="637.50" x2="220.50" y2="640.80" stroke="#5a5a5a" stroke-width="1"/>
<line x1="239.50" y1="637.50" x2="239.50" y2="640.80" stroke="#5a5a5a" stroke-width="1"/>
<line x1="259.50" y1="637.50" x2="259.50" y2="640.80" stroke="#5a5a5a" stroke-width="1"/>
<line x1="278.50" y1="637.50" x2="278.50" y2="640.80" stroke="#5a5a5a" stroke-width="1"/>
<line x1="298.50" y1="637.50" x2="298.50" y2="640.80" stroke="#5a5a5a" stroke-width="1"/>
<line x1="318.50" y1="637.50" x2="318.50" y2="640.80" stroke="#5a5a5a" stroke-width="1"/>
<line x1="337.50" y1="637.50" x2="337.50" y2="640.80" stroke="#5a5a5a" stroke-width="1"/>
<line x1="357.50" y1="637.50" x2="357.50" y2="640.80" stroke="#5a5a5a" stroke-width="1"/>
<line x1="376.50" y1="637.50" x2="376.50" y2="640.80" stroke="#5a5a5a" stroke-width="1"/>
<line x1="396.50" y1="637.50" x2="396.50" y2="640.80" stroke="#5a5a5a" stroke-width="1"/>
<line x1="415.50" y1="637.50" x2="415.50" y2="640.80" stroke="#5a5a5a" stroke-width="1"/>
<line x1="435.50" y1="637.50" x2="435.50" y2="640.80" stroke="#5a5a5a" stroke-width="1"/>
<line x1="454.50" y1="637.50" x2="454.50" y2="640.80" stroke="#5a5a5a" stroke-width="1"/>
<line x1="474.50" y1="637.50" x2="474.50" y2="640.80" stroke="#5a5a5a" stroke-width="1"/>
<line x1="494.50" y1="637.50" x2="494.50" y2="640.80" stroke="#5a5a5a" stroke-width="1"/>
<line x1="513.50" y1="637.50" x2="513.50" y2="640.80" stroke="#5a5a5a" stroke-width="1"/>
<line x1="533.50" y1="637.50" x2="533.50" y2="640.80" stroke="#5a5a5a" stroke-width="1"/>
<line x1="552.50" y1="637.50" x2="552.50" y2="640.80" stroke="#5a5a5a" stroke-width="1"/>
<line x1="572.50" y1="637.50" x2="572.50" y2="640.80" stroke="#5a5a5a" stroke-width="1"/>
<line x1="591.50" y1="637.50" x2="591.50" y2="640.80" stroke="#5a5a5a" stroke-width="1"/>
<line x1="611.50" y1="637.50" x2="611.50" y2="640.80" stroke="#5a5a5a" stroke-width="1"/>
<line x1="630.50" y1="637.50" x2="630.50" y2="640.80" stroke="#5a5a5a" stroke-width="1"/>
<line x1="650.50" y1="637.50" x2="650.50" y2="640.80" stroke="#5a5a5a" stroke-width="1"/>
<line x1="670.50" y1="637.50" x2="670.50" y2="640.80" stroke="#5a5a5a" stroke-width="1"/>
<text x="0" y="0" font-size="8.0" text-anchor="middle" transform="translate(73.40,506.50) rotate(-90)">% subjects</text>
<text transform="translate(103.00,647.60) scale(1.0,1.05)" font-size="7.0" text-anchor="middle">3M</text>
<text transform="translate(122.70,647.60) scale(1.0,1.05)" font-size="7.0" text-anchor="middle">12M</text>
<text transform="translate(142.00,647.60) scale(1.0,1.05)" font-size="7.0" text-anchor="middle">3M</text>
<text transform="translate(161.70,647.60) scale(1.0,1.05)" font-size="7.0" text-anchor="middle">12M</text>
<text transform="translate(200.70,647.60) scale(1.0,1.05)" font-size="7.0" text-anchor="middle">6M</text>
<text transform="translate(220.30,647.60) scale(1.0,1.05)" font-size="7.0" text-anchor="middle">12M</text>
<text transform="translate(240.10,647.60) scale(1.0,1.05)" font-size="7.0" text-anchor="middle">6M</text>
<text transform="translate(259.40,647.60) scale(1.0,1.05)" font-size="7.0" text-anchor="middle">12M</text>
<text transform="translate(298.00,647.60) scale(1.0,1.05)" font-size="7.0" text-anchor="middle">BL</text>
<text transform="translate(317.80,647.60) scale(1.0,1.05)" font-size="7.0" text-anchor="middle">3M</text>
<text transform="translate(337.30,647.60) scale(1.0,1.05)" font-size="7.0" text-anchor="middle">6M</text>
<text transform="translate(356.60,647.60) scale(1.0,1.05)" font-size="7.0" text-anchor="middle">BL</text>
<text transform="translate(376.40,647.60) scale(1.0,1.05)" font-size="7.0" text-anchor="middle">3M</text>
<text transform="translate(396.20,647.60) scale(1.0,1.05)" font-size="7.0" text-anchor="middle">6M</text>
<text transform="translate(435.30,647.60) scale(1.0,1.05)" font-size="7.0" text-anchor="middle">BL</text>
<text transform="translate(454.40,647.60) scale(1.0,1.05)" font-size="7.0" text-anchor="middle">6M</text>
<text transform="translate(474.20,647.60) scale(1.0,1.05)" font-size="7.0" text-anchor="middle">BL</text>
<text transform="translate(493.90,647.60) scale(1.0,1.05)" font-size="7.0" text-anchor="middle">6M</text>
<text transform="translate(532.90,647.60) scale(1.0,1.05)" font-size="7.0" text-anchor="middle">4M</text>
<text transform="translate(552.60,647.60) scale(1.0,1.05)" font-size="7.0" text-anchor="middle">12M</text>
<text transform="translate(591.60,647.60) scale(1.0,1.05)" font-size="7.0" text-anchor="middle">2W</text>
<text transform="translate(611.20,647.60) scale(1.0,1.05)" font-size="7.0" text-anchor="middle">6M</text>
<text transform="translate(630.60,647.60) scale(1.0,1.05)" font-size="7.0" text-anchor="middle">12M</text>
<text transform="translate(669.30,647.60) scale(1.0,1.05)" font-size="7.0" text-anchor="middle">6M</text>
<polyline points="103.50,653.00 103.50,658.50 124.50,658.50 124.50,653.00" fill="none" stroke="#a0a0a0" stroke-width="1"/>
<text transform="translate(114.00,668.90) scale(1.0,1.05)" font-size="7.2" text-anchor="middle">LUCAS</text>
<polyline points="142.50,653.00 142.50,658.50 163.50,658.50 163.50,653.00" fill="none" stroke="#a0a0a0" stroke-width="1"/>
<text transform="translate(153.00,668.90) scale(1.0,1.05)" font-size="7.2" text-anchor="middle">Usual</text>
<polyline points="201.50,653.00 201.50,658.50 222.50,658.50 222.50,653.00" fill="none" stroke="#a0a0a0" stroke-width="1"/>
<text transform="translate(211.80,668.90) scale(1.0,1.05)" font-size="7.2" text-anchor="middle">HFOV</text>
<polyline points="239.50,653.00 239.50,658.50 260.50,658.50 260.50,653.00" fill="none" stroke="#a0a0a0" stroke-width="1"/>
<text transform="translate(250.10,668.90) scale(1.0,1.05)" font-size="7.2" text-anchor="middle">Usual</text>
<polyline points="297.50,653.00 297.50,658.50 336.50,658.50 336.50,653.00" fill="none" stroke="#a0a0a0" stroke-width="1"/>
<text transform="translate(317.50,668.90) scale(1.0,1.05)" font-size="7.2" text-anchor="middle">NIV</text>
<polyline points="355.50,653.00 355.50,658.50 396.50,658.50 396.50,653.00" fill="none" stroke="#a0a0a0" stroke-width="1"/>
<text transform="translate(375.60,668.90) scale(1.0,1.05)" font-size="7.2" text-anchor="middle">IV</text>
<polyline points="434.50,653.00 434.50,658.50 456.50,658.50 456.50,653.00" fill="none" stroke="#a0a0a0" stroke-width="1"/>
<text transform="translate(445.90,668.90) scale(1.0,1.05)" font-size="7.2" text-anchor="middle">Simvastatin</text>
<polyline points="473.50,653.00 473.50,658.50 494.50,658.50 494.50,653.00" fill="none" stroke="#a0a0a0" stroke-width="1"/>
<text transform="translate(484.40,668.90) scale(1.0,1.05)" font-size="7.2" text-anchor="middle">Placebo</text>
<text transform="translate(120.60,344.20) scale(1.0,1.1)" font-size="7.9" text-anchor="middle">PARAMEDIC-1</text>
<text transform="translate(223.60,344.20) scale(1.0,1.1)" font-size="7.9" text-anchor="middle">OSCAR</text>
<text transform="translate(336.30,344.10) scale(1.0,1.1)" font-size="7.9" text-anchor="middle">BREATHE</text>
<text transform="translate(459.40,344.20) scale(1.0,1.1)" font-size="7.9" text-anchor="middle">MoDUS</text>
<text transform="translate(532.20,345.80) scale(1.0,1.1)" font-size="7.9" text-anchor="middle">Pattison 2018</text>
<text transform="translate(603.90,345.30) scale(1.0,1.1)" font-size="7.9" text-anchor="middle">Pattison 2015</text>
<text transform="translate(661.90,344.20) scale(1.0,1.1)" font-size="7.9" text-anchor="middle">HOPE-ICU</text>
<text transform="translate(99.70,361.80) scale(1.0,1.1)" font-size="7.7" text-anchor="middle">32*</text>
<text transform="translate(118.80,361.80) scale(1.0,1.1)" font-size="7.7" text-anchor="middle">32*</text>
<text transform="translate(140.50,361.80) scale(1.0,1.1)" font-size="7.7" text-anchor="middle">55*</text>
<text transform="translate(158.00,361.80) scale(1.0,1.1)" font-size="7.7" text-anchor="middle">51*</text>
<text transform="translate(196.80,361.80) scale(1.0,1.1)" font-size="7.7" text-anchor="middle">113/</text>
<text transform="translate(196.80,370.80) scale(1.0,1.1)" font-size="7.7" text-anchor="middle">199</text>
<text transform="translate(215.90,361.80) scale(1.0,1.1)" font-size="7.7" text-anchor="middle">105/</text>
<text transform="translate(215.90,370.80) scale(1.0,1.1)" font-size="7.7" text-anchor="middle">196</text>
<text transform="translate(236.50,361.80) scale(1.0,1.1)" font-size="7.7" text-anchor="middle">118/</text>
<text transform="translate(236.50,370.80) scale(1.0,1.1)" font-size="7.7" text-anchor="middle">201</text>
<text transform="translate(256.10,361.80) scale(1.0,1.1)" font-size="7.7" text-anchor="middle">96/</text>
<text transform="translate(256.10,370.80) scale(1.0,1.1)" font-size="7.7" text-anchor="middle">194</text>
<text transform="translate(295.70,363.90) scale(1.0,1.1)" font-size="7.7" text-anchor="middle">121/</text>
<text transform="translate(295.70,373.40) scale(1.0,1.1)" font-size="7.7" text-anchor="middle">182</text>
<text transform="translate(315.50,363.90) scale(1.0,1.1)" font-size="7.7" text-anchor="middle">93/</text>
<text transform="translate(315.50,373.40) scale(1.0,1.1)" font-size="7.7" text-anchor="middle">144</text>
<text transform="translate(334.10,363.90) scale(1.0,1.1)" font-size="7.7" text-anchor="middle">93/</text>
<text transform="translate(334.10,373.40) scale(1.0,1.1)" font-size="7.7" text-anchor="middle">144</text>
<text transform="translate(354.00,363.90) scale(1.0,1.1)" font-size="7.7" text-anchor="middle">120/</text>
<text transform="translate(354.00,373.40) scale(1.0,1.1)" font-size="7.7" text-anchor="middle">182</text>
<text transform="translate(374.80,363.90) scale(1.0,1.1)" font-size="7.7" text-anchor="middle">90/</text>
<text transform="translate(374.80,373.40) scale(1.0,1.1)" font-size="7.7" text-anchor="middle">139</text>
<text transform="translate(393.80,363.90) scale(1.0,1.1)" font-size="7.7" text-anchor="middle">83/</text>
<text transform="translate(393.80,373.40) scale(1.0,1.1)" font-size="7.7" text-anchor="middle">135</text>
<text transform="translate(432.50,361.50) scale(1.0,1.1)" font-size="7.7" text-anchor="middle">37/</text>
<text transform="translate(432.50,370.80) scale(1.0,1.1)" font-size="7.7" text-anchor="middle">71</text>
<text transform="translate(451.40,361.50) scale(1.0,1.1)" font-size="7.7" text-anchor="middle">25/</text>
<text transform="translate(451.40,370.80) scale(1.0,1.1)" font-size="7.7" text-anchor="middle">41</text>
<text transform="translate(471.40,361.50) scale(1.0,1.1)" font-size="7.7" text-anchor="middle">41/</text>
<text transform="translate(471.40,370.80) scale(1.0,1.1)" font-size="7.7" text-anchor="middle">71</text>
<text transform="translate(491.30,361.50) scale(1.0,1.1)" font-size="7.7" text-anchor="middle">27/</text>
<text transform="translate(491.30,370.80) scale(1.0,1.1)" font-size="7.7" text-anchor="middle">49</text>
<text transform="translate(529.20,361.50) scale(1.0,1.1)" font-size="7.7" text-anchor="middle">21/</text>
<text transform="translate(529.20,370.80) scale(1.0,1.1)" font-size="7.7" text-anchor="middle">32</text>
<text transform="translate(549.80,361.50) scale(1.0,1.1)" font-size="7.7" text-anchor="middle">23/</text>
<text transform="translate(549.80,370.80) scale(1.0,1.1)" font-size="7.7" text-anchor="middle">30</text>
<text transform="translate(588.70,361.50) scale(1.0,1.1)" font-size="7.7" text-anchor="middle">71/</text>
<text transform="translate(588.70,370.80) scale(1.0,1.1)" font-size="7.7" text-anchor="middle">77</text>
<text transform="translate(608.80,361.50) scale(1.0,1.1)" font-size="7.7" text-anchor="middle">53/</text>
<text transform="translate(608.80,370.80) scale(1.0,1.1)" font-size="7.7" text-anchor="middle">63</text>
<text transform="translate(628.30,361.50) scale(1.0,1.1)" font-size="7.7" text-anchor="middle">39/</text>
<text transform="translate(628.30,370.80) scale(1.0,1.1)" font-size="7.7" text-anchor="middle">56</text>
<text transform="translate(667.60,361.50) scale(1.0,1.1)" font-size="7.7" text-anchor="middle">53*</text>
<rect x="96.25" y="951.65" width="13.90" height="51.55" fill="#ffffff"/>
<line x1="96.75" y1="951.65" x2="96.75" y2="1003.20" stroke="#a9a9a9" stroke-width="1"/>
<line x1="109.65" y1="951.65" x2="109.65" y2="1003.20" stroke="#a9a9a9" stroke-width="1"/>
<rect x="96.25" y="838.95" width="13.90" height="112.70" fill="#c3c3c5"/>
<line x1="96.75" y1="838.95" x2="96.75" y2="951.65" stroke="#a2a2a2" stroke-width="1"/>
<line x1="109.65" y1="838.95" x2="109.65" y2="951.65" stroke="#a2a2a2" stroke-width="1"/>
<line x1="96.25" y1="951.15" x2="110.15" y2="951.15" stroke="#969696" stroke-width="1"/>
<rect x="96.25" y="778.20" width="13.90" height="60.75" fill="#141414"/>
<rect x="116.83" y="929.75" width="13.90" height="73.45" fill="#ffffff"/>
<line x1="117.33" y1="929.75" x2="117.33" y2="1003.20" stroke="#a9a9a9" stroke-width="1"/>
<line x1="130.23" y1="929.75" x2="130.23" y2="1003.20" stroke="#a9a9a9" stroke-width="1"/>
<rect x="116.83" y="832.25" width="13.90" height="97.50" fill="#c3c3c5"/>
<line x1="117.33" y1="832.25" x2="117.33" y2="929.75" stroke="#a2a2a2" stroke-width="1"/>
<line x1="130.23" y1="832.25" x2="130.23" y2="929.75" stroke="#a2a2a2" stroke-width="1"/>
<line x1="116.83" y1="929.25" x2="130.73" y2="929.25" stroke="#969696" stroke-width="1"/>
<rect x="116.83" y="778.20" width="13.90" height="54.05" fill="#141414"/>
<rect x="137.40" y="947.65" width="13.90" height="55.55" fill="#ffffff"/>
<line x1="137.90" y1="947.65" x2="137.90" y2="1003.20" stroke="#a9a9a9" stroke-width="1"/>
<line x1="150.80" y1="947.65" x2="150.80" y2="1003.20" stroke="#a9a9a9" stroke-width="1"/>
<rect x="137.40" y="816.55" width="13.90" height="131.10" fill="#c3c3c5"/>
<line x1="137.90" y1="816.55" x2="137.90" y2="947.65" stroke="#a2a2a2" stroke-width="1"/>
<line x1="150.80" y1="816.55" x2="150.80" y2="947.65" stroke="#a2a2a2" stroke-width="1"/>
<line x1="137.40" y1="947.15" x2="151.30" y2="947.15" stroke="#969696" stroke-width="1"/>
<rect x="137.40" y="778.20" width="13.90" height="38.35" fill="#141414"/>
<rect x="157.98" y="933.75" width="13.90" height="69.45" fill="#ffffff"/>
<line x1="158.48" y1="933.75" x2="158.48" y2="1003.20" stroke="#a9a9a9" stroke-width="1"/>
<line x1="171.38" y1="933.75" x2="171.38" y2="1003.20" stroke="#a9a9a9" stroke-width="1"/>
<rect x="157.98" y="778.20" width="13.90" height="155.55" fill="#c3c3c5"/>
<line x1="158.48" y1="778.20" x2="158.48" y2="933.75" stroke="#a2a2a2" stroke-width="1"/>
<line x1="171.38" y1="778.20" x2="171.38" y2="933.75" stroke="#a2a2a2" stroke-width="1"/>
<line x1="157.98" y1="933.25" x2="171.88" y2="933.25" stroke="#969696" stroke-width="1"/>
<line x1="157.98" y1="778.70" x2="171.88" y2="778.70" stroke="#a2a2a2" stroke-width="1"/>
<rect x="199.13" y="902.05" width="13.90" height="101.15" fill="#ffffff"/>
<line x1="199.63" y1="902.05" x2="199.63" y2="1003.20" stroke="#a9a9a9" stroke-width="1"/>
<line x1="212.53" y1="902.05" x2="212.53" y2="1003.20" stroke="#a9a9a9" stroke-width="1"/>
<rect x="199.13" y="794.15" width="13.90" height="107.90" fill="#c3c3c5"/>
<line x1="199.63" y1="794.15" x2="199.63" y2="902.05" stroke="#a2a2a2" stroke-width="1"/>
<line x1="212.53" y1="794.15" x2="212.53" y2="902.05" stroke="#a2a2a2" stroke-width="1"/>
<line x1="199.13" y1="901.55" x2="213.03" y2="901.55" stroke="#969696" stroke-width="1"/>
<rect x="199.13" y="778.20" width="13.90" height="15.95" fill="#141414"/>
<rect x="219.71" y="943.05" width="13.90" height="60.15" fill="#ffffff"/>
<line x1="220.21" y1="943.05" x2="220.21" y2="1003.20" stroke="#a9a9a9" stroke-width="1"/>
<line x1="233.11" y1="943.05" x2="233.11" y2="1003.20" stroke="#a9a9a9" stroke-width="1"/>
<rect x="219.71" y="823.45" width="13.90" height="119.60" fill="#c3c3c5"/>
<line x1="220.21" y1="823.45" x2="220.21" y2="943.05" stroke="#a2a2a2" stroke-width="1"/>
<line x1="233.11" y1="823.45" x2="233.11" y2="943.05" stroke="#a2a2a2" stroke-width="1"/>
<line x1="219.71" y1="942.55" x2="233.61" y2="942.55" stroke="#969696" stroke-width="1"/>
<rect x="219.71" y="778.20" width="13.90" height="45.25" fill="#141414"/>
<rect x="240.28" y="944.65" width="13.90" height="58.55" fill="#ffffff"/>
<line x1="240.78" y1="944.65" x2="240.78" y2="1003.20" stroke="#a9a9a9" stroke-width="1"/>
<line x1="253.68" y1="944.65" x2="253.68" y2="1003.20" stroke="#a9a9a9" stroke-width="1"/>
<rect x="240.28" y="805.15" width="13.90" height="139.50" fill="#c3c3c5"/>
<line x1="240.78" y1="805.15" x2="240.78" y2="944.65" stroke="#a2a2a2" stroke-width="1"/>
<line x1="253.68" y1="805.15" x2="253.68" y2="944.65" stroke="#a2a2a2" stroke-width="1"/>
<line x1="240.28" y1="944.15" x2="254.18" y2="944.15" stroke="#969696" stroke-width="1"/>
<rect x="240.28" y="778.20" width="13.90" height="26.95" fill="#141414"/>
<rect x="260.86" y="924.95" width="13.90" height="78.25" fill="#ffffff"/>
<line x1="261.36" y1="924.95" x2="261.36" y2="1003.20" stroke="#a9a9a9" stroke-width="1"/>
<line x1="274.26" y1="924.95" x2="274.26" y2="1003.20" stroke="#a9a9a9" stroke-width="1"/>
<rect x="260.86" y="802.95" width="13.90" height="122.00" fill="#c3c3c5"/>
<line x1="261.36" y1="802.95" x2="261.36" y2="924.95" stroke="#a2a2a2" stroke-width="1"/>
<line x1="274.26" y1="802.95" x2="274.26" y2="924.95" stroke="#a2a2a2" stroke-width="1"/>
<line x1="260.86" y1="924.45" x2="274.76" y2="924.45" stroke="#969696" stroke-width="1"/>
<rect x="260.86" y="778.20" width="13.90" height="24.75" fill="#141414"/>
<rect x="281.43" y="908.75" width="13.90" height="94.45" fill="#ffffff"/>
<line x1="281.93" y1="908.75" x2="281.93" y2="1003.20" stroke="#a9a9a9" stroke-width="1"/>
<line x1="294.83" y1="908.75" x2="294.83" y2="1003.20" stroke="#a9a9a9" stroke-width="1"/>
<rect x="281.43" y="792.35" width="13.90" height="116.40" fill="#c3c3c5"/>
<line x1="281.93" y1="792.35" x2="281.93" y2="908.75" stroke="#a2a2a2" stroke-width="1"/>
<line x1="294.83" y1="792.35" x2="294.83" y2="908.75" stroke="#a2a2a2" stroke-width="1"/>
<line x1="281.43" y1="908.25" x2="295.33" y2="908.25" stroke="#969696" stroke-width="1"/>
<rect x="281.43" y="778.20" width="13.90" height="14.15" fill="#141414"/>
<rect x="302.01" y="935.85" width="13.90" height="67.35" fill="#ffffff"/>
<line x1="302.51" y1="935.85" x2="302.51" y2="1003.20" stroke="#a9a9a9" stroke-width="1"/>
<line x1="315.41" y1="935.85" x2="315.41" y2="1003.20" stroke="#a9a9a9" stroke-width="1"/>
<rect x="302.01" y="801.15" width="13.90" height="134.70" fill="#c3c3c5"/>
<line x1="302.51" y1="801.15" x2="302.51" y2="935.85" stroke="#a2a2a2" stroke-width="1"/>
<line x1="315.41" y1="801.15" x2="315.41" y2="935.85" stroke="#a2a2a2" stroke-width="1"/>
<line x1="302.01" y1="935.35" x2="315.91" y2="935.35" stroke="#969696" stroke-width="1"/>
<rect x="302.01" y="778.20" width="13.90" height="22.95" fill="#141414"/>
<rect x="322.59" y="947.65" width="13.90" height="55.55" fill="#ffffff"/>
<line x1="323.09" y1="947.65" x2="323.09" y2="1003.20" stroke="#a9a9a9" stroke-width="1"/>
<line x1="335.99" y1="947.65" x2="335.99" y2="1003.20" stroke="#a9a9a9" stroke-width="1"/>
<rect x="322.59" y="812.25" width="13.90" height="135.40" fill="#c3c3c5"/>
<line x1="323.09" y1="812.25" x2="323.09" y2="947.65" stroke="#a2a2a2" stroke-width="1"/>
<line x1="335.99" y1="812.25" x2="335.99" y2="947.65" stroke="#a2a2a2" stroke-width="1"/>
<line x1="322.59" y1="947.15" x2="336.49" y2="947.15" stroke="#969696" stroke-width="1"/>
<rect x="322.59" y="778.20" width="13.90" height="34.05" fill="#141414"/>
<rect x="343.16" y="931.85" width="13.90" height="71.35" fill="#ffffff"/>
<line x1="343.66" y1="931.85" x2="343.66" y2="1003.20" stroke="#a9a9a9" stroke-width="1"/>
<line x1="356.56" y1="931.85" x2="356.56" y2="1003.20" stroke="#a9a9a9" stroke-width="1"/>
<rect x="343.16" y="802.95" width="13.90" height="128.90" fill="#c3c3c5"/>
<line x1="343.66" y1="802.95" x2="343.66" y2="931.85" stroke="#a2a2a2" stroke-width="1"/>
<line x1="356.56" y1="802.95" x2="356.56" y2="931.85" stroke="#a2a2a2" stroke-width="1"/>
<line x1="343.16" y1="931.35" x2="357.06" y2="931.35" stroke="#969696" stroke-width="1"/>
<rect x="343.16" y="778.20" width="13.90" height="24.75" fill="#141414"/>
<rect x="384.31" y="931.85" width="13.90" height="71.35" fill="#ffffff"/>
<line x1="384.81" y1="931.85" x2="384.81" y2="1003.20" stroke="#a9a9a9" stroke-width="1"/>
<line x1="397.71" y1="931.85" x2="397.71" y2="1003.20" stroke="#a9a9a9" stroke-width="1"/>
<rect x="384.31" y="798.95" width="13.90" height="132.90" fill="#c3c3c5"/>
<line x1="384.81" y1="798.95" x2="384.81" y2="931.85" stroke="#a2a2a2" stroke-width="1"/>
<line x1="397.71" y1="798.95" x2="397.71" y2="931.85" stroke="#a2a2a2" stroke-width="1"/>
<line x1="384.31" y1="931.35" x2="398.21" y2="931.35" stroke="#969696" stroke-width="1"/>
<rect x="384.31" y="778.20" width="13.90" height="20.75" fill="#141414"/>
<rect x="404.89" y="926.85" width="13.90" height="76.35" fill="#ffffff"/>
<line x1="405.39" y1="926.85" x2="405.39" y2="1003.20" stroke="#a9a9a9" stroke-width="1"/>
<line x1="418.29" y1="926.85" x2="418.29" y2="1003.20" stroke="#a9a9a9" stroke-width="1"/>
<rect x="404.89" y="798.95" width="13.90" height="127.90" fill="#c3c3c5"/>
<line x1="405.39" y1="798.95" x2="405.39" y2="926.85" stroke="#a2a2a2" stroke-width="1"/>
<line x1="418.29" y1="798.95" x2="418.29" y2="926.85" stroke="#a2a2a2" stroke-width="1"/>
<line x1="404.89" y1="926.35" x2="418.79" y2="926.35" stroke="#969696" stroke-width="1"/>
<rect x="404.89" y="778.20" width="13.90" height="20.75" fill="#141414"/>
<rect x="425.47" y="913.75" width="13.90" height="89.45" fill="#ffffff"/>
<line x1="425.97" y1="913.75" x2="425.97" y2="1003.20" stroke="#a9a9a9" stroke-width="1"/>
<line x1="438.87" y1="913.75" x2="438.87" y2="1003.20" stroke="#a9a9a9" stroke-width="1"/>
<rect x="425.47" y="798.95" width="13.90" height="114.80" fill="#c3c3c5"/>
<line x1="425.97" y1="798.95" x2="425.97" y2="913.75" stroke="#a2a2a2" stroke-width="1"/>
<line x1="438.87" y1="798.95" x2="438.87" y2="913.75" stroke="#a2a2a2" stroke-width="1"/>
<line x1="425.47" y1="913.25" x2="439.37" y2="913.25" stroke="#969696" stroke-width="1"/>
<rect x="425.47" y="778.20" width="13.90" height="20.75" fill="#141414"/>
<rect x="466.62" y="904.95" width="13.90" height="98.25" fill="#ffffff"/>
<line x1="467.12" y1="904.95" x2="467.12" y2="1003.20" stroke="#a9a9a9" stroke-width="1"/>
<line x1="480.02" y1="904.95" x2="480.02" y2="1003.20" stroke="#a9a9a9" stroke-width="1"/>
<rect x="466.62" y="789.65" width="13.90" height="115.30" fill="#c3c3c5"/>
<line x1="467.12" y1="789.65" x2="467.12" y2="904.95" stroke="#a2a2a2" stroke-width="1"/>
<line x1="480.02" y1="789.65" x2="480.02" y2="904.95" stroke="#a2a2a2" stroke-width="1"/>
<line x1="466.62" y1="904.45" x2="480.52" y2="904.45" stroke="#969696" stroke-width="1"/>
<rect x="466.62" y="778.20" width="13.90" height="11.45" fill="#141414"/>
<rect x="487.19" y="943.05" width="13.90" height="60.15" fill="#ffffff"/>
<line x1="487.69" y1="943.05" x2="487.69" y2="1003.20" stroke="#a9a9a9" stroke-width="1"/>
<line x1="500.59" y1="943.05" x2="500.59" y2="1003.20" stroke="#a9a9a9" stroke-width="1"/>
<rect x="487.19" y="823.45" width="13.90" height="119.60" fill="#c3c3c5"/>
<line x1="487.69" y1="823.45" x2="487.69" y2="943.05" stroke="#a2a2a2" stroke-width="1"/>
<line x1="500.59" y1="823.45" x2="500.59" y2="943.05" stroke="#a2a2a2" stroke-width="1"/>
<line x1="487.19" y1="942.55" x2="501.09" y2="942.55" stroke="#969696" stroke-width="1"/>
<rect x="487.19" y="778.20" width="13.90" height="45.25" fill="#141414"/>
<rect x="507.77" y="915.65" width="13.90" height="87.55" fill="#ffffff"/>
<line x1="508.27" y1="915.65" x2="508.27" y2="1003.20" stroke="#a9a9a9" stroke-width="1"/>
<line x1="521.17" y1="915.65" x2="521.17" y2="1003.20" stroke="#a9a9a9" stroke-width="1"/>
<rect x="507.77" y="807.75" width="13.90" height="107.90" fill="#c3c3c5"/>
<line x1="508.27" y1="807.75" x2="508.27" y2="915.65" stroke="#a2a2a2" stroke-width="1"/>
<line x1="521.17" y1="807.75" x2="521.17" y2="915.65" stroke="#a2a2a2" stroke-width="1"/>
<line x1="507.77" y1="915.15" x2="521.67" y2="915.15" stroke="#969696" stroke-width="1"/>
<rect x="507.77" y="778.20" width="13.90" height="29.55" fill="#141414"/>
<rect x="528.35" y="917.55" width="13.90" height="85.65" fill="#ffffff"/>
<line x1="528.85" y1="917.55" x2="528.85" y2="1003.20" stroke="#a9a9a9" stroke-width="1"/>
<line x1="541.75" y1="917.55" x2="541.75" y2="1003.20" stroke="#a9a9a9" stroke-width="1"/>
<rect x="528.35" y="796.35" width="13.90" height="121.20" fill="#c3c3c5"/>
<line x1="528.85" y1="796.35" x2="528.85" y2="917.55" stroke="#a2a2a2" stroke-width="1"/>
<line x1="541.75" y1="796.35" x2="541.75" y2="917.55" stroke="#a2a2a2" stroke-width="1"/>
<line x1="528.35" y1="917.05" x2="542.25" y2="917.05" stroke="#969696" stroke-width="1"/>
<rect x="528.35" y="778.20" width="13.90" height="18.15" fill="#141414"/>
<rect x="548.92" y="924.75" width="13.90" height="78.45" fill="#ffffff"/>
<line x1="549.42" y1="924.75" x2="549.42" y2="1003.20" stroke="#a9a9a9" stroke-width="1"/>
<line x1="562.32" y1="924.75" x2="562.32" y2="1003.20" stroke="#a9a9a9" stroke-width="1"/>
<rect x="548.92" y="805.15" width="13.90" height="119.60" fill="#c3c3c5"/>
<line x1="549.42" y1="805.15" x2="549.42" y2="924.75" stroke="#a2a2a2" stroke-width="1"/>
<line x1="562.32" y1="805.15" x2="562.32" y2="924.75" stroke="#a2a2a2" stroke-width="1"/>
<line x1="548.92" y1="924.25" x2="562.82" y2="924.25" stroke="#969696" stroke-width="1"/>
<rect x="548.92" y="778.20" width="13.90" height="26.95" fill="#141414"/>
<rect x="569.50" y="926.85" width="13.90" height="76.35" fill="#ffffff"/>
<line x1="570.00" y1="926.85" x2="570.00" y2="1003.20" stroke="#a9a9a9" stroke-width="1"/>
<line x1="582.90" y1="926.85" x2="582.90" y2="1003.20" stroke="#a9a9a9" stroke-width="1"/>
<rect x="569.50" y="801.15" width="13.90" height="125.70" fill="#c3c3c5"/>
<line x1="570.00" y1="801.15" x2="570.00" y2="926.85" stroke="#a2a2a2" stroke-width="1"/>
<line x1="582.90" y1="801.15" x2="582.90" y2="926.85" stroke="#a2a2a2" stroke-width="1"/>
<line x1="569.50" y1="926.35" x2="583.40" y2="926.35" stroke="#969696" stroke-width="1"/>
<rect x="569.50" y="778.20" width="13.90" height="22.95" fill="#141414"/>
<line x1="90.00" y1="773.40" x2="90.00" y2="1003.70" stroke="#a8a8a8" stroke-width="1.5"/>
<line x1="86.80" y1="1003.20" x2="90.00" y2="1003.20" stroke="#666" stroke-width="1"/>
<text transform="translate(86.40,1006.05) scale(1.0,1.1)" font-size="7.5" text-anchor="end">0</text>
<line x1="86.80" y1="890.70" x2="90.00" y2="890.70" stroke="#666" stroke-width="1"/>
<text transform="translate(86.40,893.55) scale(1.0,1.1)" font-size="7.5" text-anchor="end">50</text>
<line x1="86.80" y1="778.20" x2="90.00" y2="778.20" stroke="#666" stroke-width="1"/>
<text transform="translate(86.40,781.05) scale(1.0,1.1)" font-size="7.5" text-anchor="end">100</text>
<line x1="90.00" y1="1003.20" x2="589.50" y2="1003.20" stroke="#6a6a6a" stroke-width="1"/>
<line x1="103.50" y1="1003.20" x2="103.50" y2="1006.50" stroke="#5a5a5a" stroke-width="1"/>
<line x1="123.50" y1="1003.20" x2="123.50" y2="1006.50" stroke="#5a5a5a" stroke-width="1"/>
<line x1="144.50" y1="1003.20" x2="144.50" y2="1006.50" stroke="#5a5a5a" stroke-width="1"/>
<line x1="164.50" y1="1003.20" x2="164.50" y2="1006.50" stroke="#5a5a5a" stroke-width="1"/>
<line x1="185.50" y1="1003.20" x2="185.50" y2="1006.50" stroke="#5a5a5a" stroke-width="1"/>
<line x1="206.50" y1="1003.20" x2="206.50" y2="1006.50" stroke="#5a5a5a" stroke-width="1"/>
<line x1="226.50" y1="1003.20" x2="226.50" y2="1006.50" stroke="#5a5a5a" stroke-width="1"/>
<line x1="247.50" y1="1003.20" x2="247.50" y2="1006.50" stroke="#5a5a5a" stroke-width="1"/>
<line x1="267.50" y1="1003.20" x2="267.50" y2="1006.50" stroke="#5a5a5a" stroke-width="1"/>
<line x1="288.50" y1="1003.20" x2="288.50" y2="1006.50" stroke="#5a5a5a" stroke-width="1"/>
<line x1="308.50" y1="1003.20" x2="308.50" y2="1006.50" stroke="#5a5a5a" stroke-width="1"/>
<line x1="329.50" y1="1003.20" x2="329.50" y2="1006.50" stroke="#5a5a5a" stroke-width="1"/>
<line x1="350.50" y1="1003.20" x2="350.50" y2="1006.50" stroke="#5a5a5a" stroke-width="1"/>
<line x1="370.50" y1="1003.20" x2="370.50" y2="1006.50" stroke="#5a5a5a" stroke-width="1"/>
<line x1="391.50" y1="1003.20" x2="391.50" y2="1006.50" stroke="#5a5a5a" stroke-width="1"/>
<line x1="411.50" y1="1003.20" x2="411.50" y2="1006.50" stroke="#5a5a5a" stroke-width="1"/>
<line x1="432.50" y1="1003.20" x2="432.50" y2="1006.50" stroke="#5a5a5a" stroke-width="1"/>
<line x1="452.50" y1="1003.20" x2="452.50" y2="1006.50" stroke="#5a5a5a" stroke-width="1"/>
<line x1="473.50" y1="1003.20" x2="473.50" y2="1006.50" stroke="#5a5a5a" stroke-width="1"/>
<line x1="494.50" y1="1003.20" x2="494.50" y2="1006.50" stroke="#5a5a5a" stroke-width="1"/>
<line x1="514.50" y1="1003.20" x2="514.50" y2="1006.50" stroke="#5a5a5a" stroke-width="1"/>
<line x1="535.50" y1="1003.20" x2="535.50" y2="1006.50" stroke="#5a5a5a" stroke-width="1"/>
<line x1="555.50" y1="1003.20" x2="555.50" y2="1006.50" stroke="#5a5a5a" stroke-width="1"/>
<line x1="576.50" y1="1003.20" x2="576.50" y2="1006.50" stroke="#5a5a5a" stroke-width="1"/>
<text x="0" y="0" font-size="7.2" text-anchor="middle" transform="translate(73.10,884.00) rotate(-90)">% subjects</text>
<text transform="translate(103.60,1012.50) scale(1.0,1.05)" font-size="6.5" text-anchor="middle">BL</text>
<text transform="translate(124.00,1012.50) scale(1.0,1.05)" font-size="6.5" text-anchor="middle">0WK</text>
<text transform="translate(144.50,1012.50) scale(1.0,1.05)" font-size="6.5" text-anchor="middle">3M</text>
<text transform="translate(165.40,1012.50) scale(1.0,1.05)" font-size="6.5" text-anchor="middle">6M</text>
<text transform="translate(206.00,1012.50) scale(1.0,1.05)" font-size="6.5" text-anchor="middle">DC</text>
<text transform="translate(226.80,1012.50) scale(1.0,1.05)" font-size="6.5" text-anchor="middle">3M</text>
<text transform="translate(247.30,1012.50) scale(1.0,1.05)" font-size="6.5" text-anchor="middle">6M</text>
<text transform="translate(267.80,1012.50) scale(1.0,1.05)" font-size="6.5" text-anchor="middle">12M</text>
<text transform="translate(288.00,1012.50) scale(1.0,1.05)" font-size="6.5" text-anchor="middle">DC</text>
<text transform="translate(309.00,1012.50) scale(1.0,1.05)" font-size="6.5" text-anchor="middle">3M</text>
<text transform="translate(329.30,1012.50) scale(1.0,1.05)" font-size="6.5" text-anchor="middle">6M</text>
<text transform="translate(349.80,1012.50) scale(1.0,1.05)" font-size="6.5" text-anchor="middle">12M</text>
<text transform="translate(391.10,1012.50) scale(1.0,1.05)" font-size="6.5" text-anchor="middle">3M</text>
<text transform="translate(411.40,1012.50) scale(1.0,1.05)" font-size="6.5" text-anchor="middle">12M</text>
<text transform="translate(431.90,1012.50) scale(1.0,1.05)" font-size="6.5" text-anchor="middle">24M</text>
<text transform="translate(473.10,1012.50) scale(1.0,1.05)" font-size="6.5" text-anchor="middle">DC</text>
<text transform="translate(493.90,1012.50) scale(1.0,1.05)" font-size="6.5" text-anchor="middle">3M</text>
<text transform="translate(514.10,1012.50) scale(1.0,1.05)" font-size="6.5" text-anchor="middle">6M</text>
<text transform="translate(534.90,1012.50) scale(1.0,1.05)" font-size="6.5" text-anchor="middle">DC</text>
<text transform="translate(555.40,1012.50) scale(1.0,1.05)" font-size="6.5" text-anchor="middle">3M</text>
<text transform="translate(576.20,1012.50) scale(1.0,1.05)" font-size="6.5" text-anchor="middle">6M</text>
<polyline points="208.50,1019.90 208.50,1024.50 266.50,1024.50 266.50,1019.90" fill="none" stroke="#a0a0a0" stroke-width="1"/>
<text transform="translate(236.60,1034.00) scale(1.0,1.05)" font-size="6.6" text-anchor="middle">Simvastatin</text>
<polyline points="288.50,1019.90 288.50,1024.50 349.50,1024.50 349.50,1019.90" fill="none" stroke="#a0a0a0" stroke-width="1"/>
<text transform="translate(317.90,1034.00) scale(1.0,1.05)" font-size="6.6" text-anchor="middle">Placebo</text>
<polyline points="474.50,1019.90 474.50,1024.50 515.50,1024.50 515.50,1019.90" fill="none" stroke="#a0a0a0" stroke-width="1"/>
<text transform="translate(493.60,1034.00) scale(1.0,1.05)" font-size="6.6" text-anchor="middle">Intensive</text>
<polyline points="535.50,1019.90 535.50,1024.50 576.50,1024.50 576.50,1019.90" fill="none" stroke="#a0a0a0" stroke-width="1"/>
<text transform="translate(555.70,1034.00) scale(1.0,1.05)" font-size="6.6" text-anchor="middle">Usual</text>
<text transform="translate(136.60,734.00) scale(1.0,1.1)" font-size="7.2" text-anchor="middle">PIX</text>
<text transform="translate(272.20,734.00) scale(1.0,1.1)" font-size="7.2" text-anchor="middle">HARP-2</text>
<text transform="translate(404.00,734.00) scale(1.0,1.1)" font-size="7.2" text-anchor="middle">ICON</text>
<text transform="translate(519.90,734.00) scale(1.0,1.1)" font-size="7.2" text-anchor="middle">EPICC</text>
<text transform="translate(101.40,749.50) scale(1.0,1.1)" font-size="7.0" text-anchor="middle">26/</text>
<text transform="translate(101.40,758.00) scale(1.0,1.1)" font-size="7.0" text-anchor="middle">59</text>
<text transform="translate(121.00,749.50) scale(1.0,1.1)" font-size="7.0" text-anchor="middle">21/</text>
<text transform="translate(121.00,758.00) scale(1.0,1.1)" font-size="7.0" text-anchor="middle">59</text>
<text transform="translate(142.10,749.50) scale(1.0,1.1)" font-size="7.0" text-anchor="middle">12/</text>
<text transform="translate(142.10,758.00) scale(1.0,1.1)" font-size="7.0" text-anchor="middle">59</text>
<text transform="translate(162.00,749.50) scale(1.0,1.1)" font-size="7.0" text-anchor="middle">16/</text>
<text transform="translate(162.00,758.00) scale(1.0,1.1)" font-size="7.0" text-anchor="middle">59</text>
<text transform="translate(202.80,749.50) scale(1.0,1.1)" font-size="7.0" text-anchor="middle">130/</text>
<text transform="translate(202.80,758.00) scale(1.0,1.1)" font-size="7.0" text-anchor="middle">192</text>
<text transform="translate(223.40,749.50) scale(1.0,1.1)" font-size="7.0" text-anchor="middle">112</text>
<text transform="translate(223.40,758.00) scale(1.0,1.1)" font-size="7.0" text-anchor="middle">*</text>
<text transform="translate(243.30,749.50) scale(1.0,1.1)" font-size="7.0" text-anchor="middle">109</text>
<text transform="translate(243.30,758.00) scale(1.0,1.1)" font-size="7.0" text-anchor="middle">*</text>
<text transform="translate(264.90,749.50) scale(1.0,1.1)" font-size="7.0" text-anchor="middle">88</text>
<text transform="translate(264.90,758.00) scale(1.0,1.1)" font-size="7.0" text-anchor="middle">*</text>
<text transform="translate(284.60,749.50) scale(1.0,1.1)" font-size="7.0" text-anchor="middle">132/</text>
<text transform="translate(284.60,758.00) scale(1.0,1.1)" font-size="7.0" text-anchor="middle">190</text>
<text transform="translate(305.80,749.50) scale(1.0,1.1)" font-size="7.0" text-anchor="middle">107</text>
<text transform="translate(305.80,758.00) scale(1.0,1.1)" font-size="7.0" text-anchor="middle">*</text>
<text transform="translate(326.60,749.50) scale(1.0,1.1)" font-size="7.0" text-anchor="middle">96</text>
<text transform="translate(326.60,758.00) scale(1.0,1.1)" font-size="7.0" text-anchor="middle">*</text>
<text transform="translate(347.20,749.50) scale(1.0,1.1)" font-size="7.0" text-anchor="middle">94</text>
<text transform="translate(347.20,758.00) scale(1.0,1.1)" font-size="7.0" text-anchor="middle">*</text>
<text transform="translate(381.60,749.50) scale(1.0,1.1)" font-size="7.0" text-anchor="middle">7042/</text>
<text transform="translate(381.60,758.00) scale(1.0,1.1)" font-size="7.0" text-anchor="middle">12105</text>
<text transform="translate(406.90,749.50) scale(1.0,1.1)" font-size="7.0" text-anchor="middle">5273/</text>
<text transform="translate(406.90,758.00) scale(1.0,1.1)" font-size="7.0" text-anchor="middle">11762</text>
<text transform="translate(430.60,749.50) scale(1.0,1.1)" font-size="7.0" text-anchor="middle">3979</text>
<text transform="translate(430.60,758.00) scale(1.0,1.1)" font-size="7.0" text-anchor="middle">*</text>
<text transform="translate(469.40,749.50) scale(1.0,1.1)" font-size="7.0" text-anchor="middle">75/</text>
<text transform="translate(469.40,758.00) scale(1.0,1.1)" font-size="7.0" text-anchor="middle">116</text>
<text transform="translate(490.00,749.50) scale(1.0,1.1)" font-size="7.0" text-anchor="middle">71/</text>
<text transform="translate(490.00,758.00) scale(1.0,1.1)" font-size="7.0" text-anchor="middle">115</text>
<text transform="translate(510.80,749.50) scale(1.0,1.1)" font-size="7.0" text-anchor="middle">64/</text>
<text transform="translate(510.80,758.00) scale(1.0,1.1)" font-size="7.0" text-anchor="middle">107</text>
<text transform="translate(531.80,749.50) scale(1.0,1.1)" font-size="7.0" text-anchor="middle">74/</text>
<text transform="translate(531.80,758.00) scale(1.0,1.1)" font-size="7.0" text-anchor="middle">113</text>
<text transform="translate(552.80,749.50) scale(1.0,1.1)" font-size="7.0" text-anchor="middle">66/</text>
<text transform="translate(552.80,758.00) scale(1.0,1.1)" font-size="7.0" text-anchor="middle">107</text>
<text transform="translate(573.00,749.50) scale(1.0,1.1)" font-size="7.0" text-anchor="middle">52/</text>
<text transform="translate(573.00,758.00) scale(1.0,1.1)" font-size="7.0" text-anchor="middle">102</text>
<text transform="translate(0.00,20.30) scale(1.0,1.12)" font-size="6.0" text-anchor="start">No. completed EQ-5D/</text>
<text transform="translate(0.00,27.70) scale(1.0,1.12)" font-size="6.0" text-anchor="start">No. alive when EQ-5D assessed</text>
<rect x="546.80" y="74.10" width="22.60" height="9.80" fill="#141414" stroke="#0a0a0a" stroke-width="1"/>
<rect x="546.50" y="104.50" width="22.20" height="7.80" fill="#c3c3c5" stroke="#777777" stroke-width="1"/>
<rect x="547.40" y="134.50" width="23.00" height="7.80" fill="#ffffff" stroke="#777777" stroke-width="1"/>
<text transform="translate(583.60,82.90) scale(1.0,1.0)" font-size="14" text-anchor="start">Extreme pain or discomfort</text>
<text transform="translate(582.30,112.90) scale(1.0,1.0)" font-size="14" text-anchor="start">Moderate pain or discomfort</text>
<text transform="translate(583.60,142.80) scale(1.0,1.0)" font-size="14" text-anchor="start">No pain or discomfort</text>
</svg>
</body></html>
